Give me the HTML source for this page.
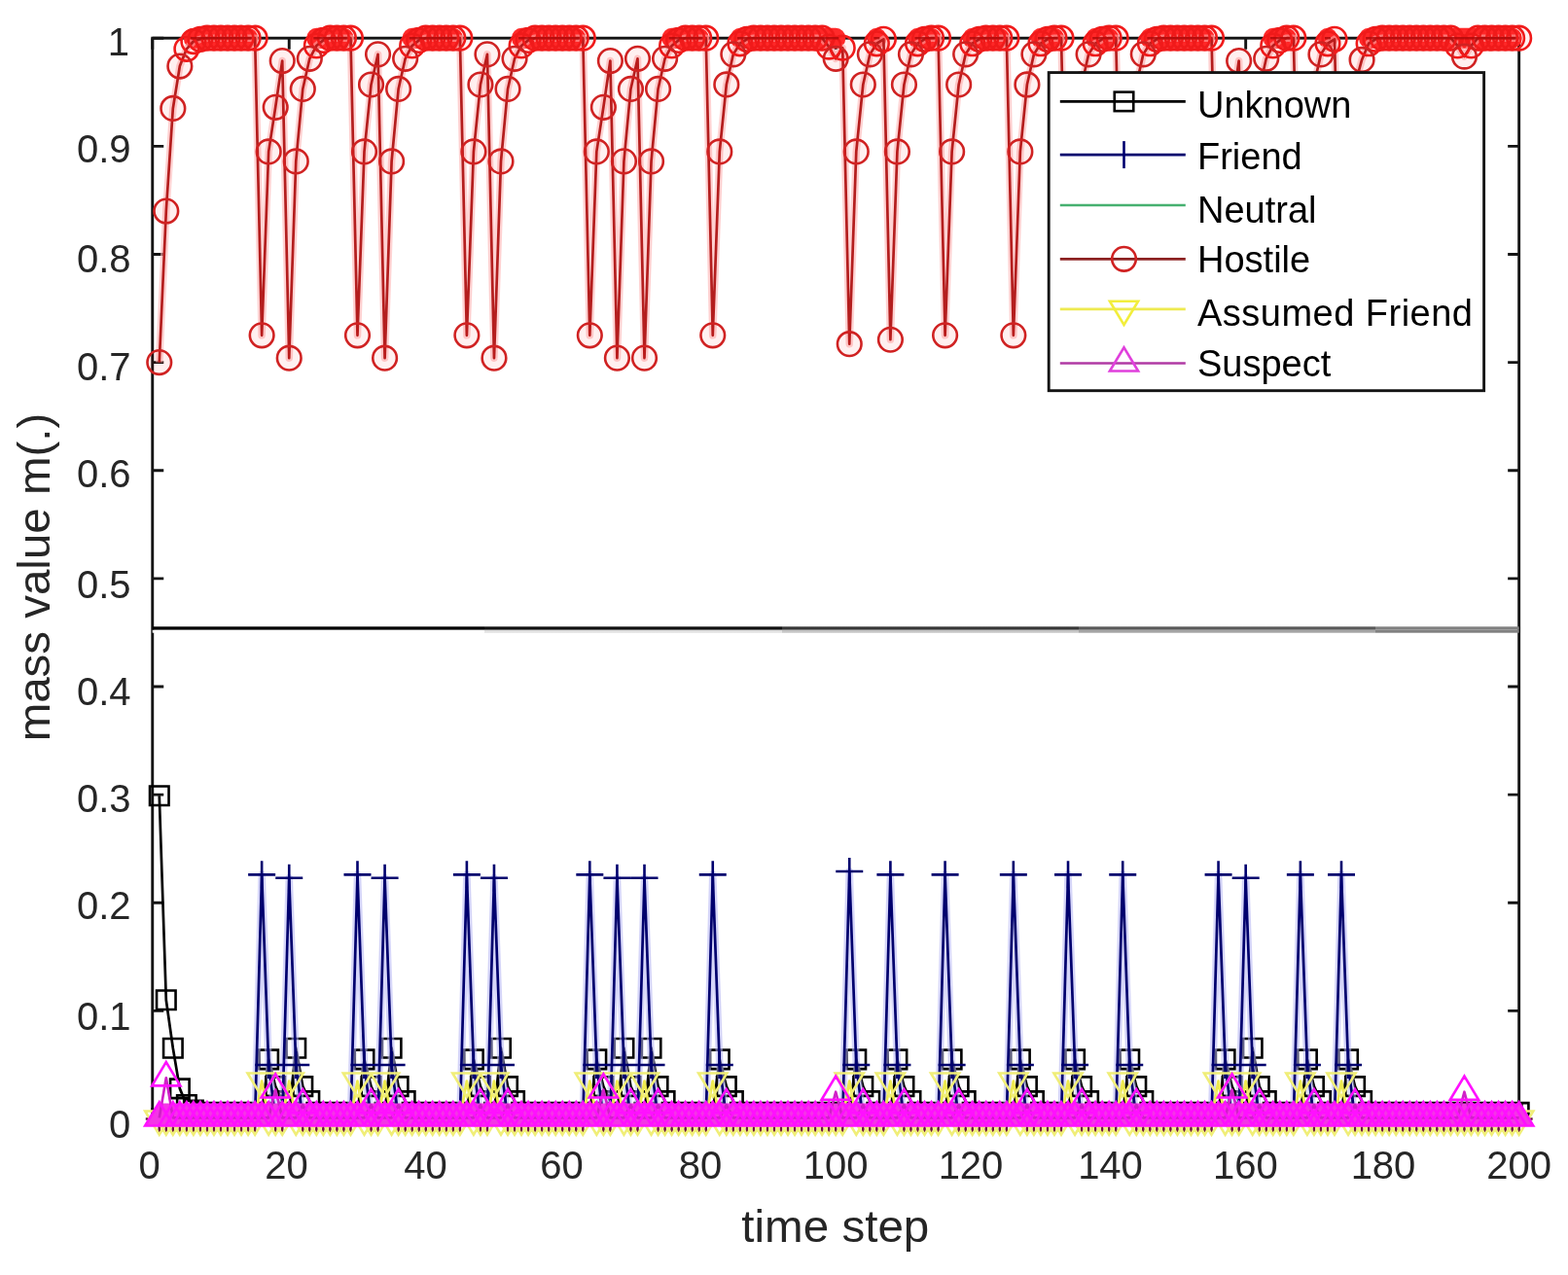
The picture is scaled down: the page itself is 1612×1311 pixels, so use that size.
<!DOCTYPE html><html><head><meta charset="utf-8"><title>mass value plot</title>
<style>html,body{margin:0;padding:0;background:#fff;}svg{display:block;}text{font-family:"Liberation Sans",Arial,Helvetica,sans-serif;}</style></head><body>
<svg width="1612" height="1311" viewBox="0 0 1612 1311">
<rect width="1612" height="1311" fill="#fff"/>
<g stroke="#141414" stroke-width="2.9" fill="none">
<rect x="156.75" y="39.20" width="1404.90" height="1111.30"/>
<path d="M156.75 1150.50h11.5M1561.65 1150.50h-11.5M156.75 1039.37h11.5M1561.65 1039.37h-11.5M156.75 928.24h11.5M1561.65 928.24h-11.5M156.75 817.11h11.5M1561.65 817.11h-11.5M156.75 705.98h11.5M1561.65 705.98h-11.5M156.75 594.85h11.5M1561.65 594.85h-11.5M156.75 483.72h11.5M1561.65 483.72h-11.5M156.75 372.59h11.5M1561.65 372.59h-11.5M156.75 261.46h11.5M1561.65 261.46h-11.5M156.75 150.33h11.5M1561.65 150.33h-11.5M156.75 39.20h11.5M1561.65 39.20h-11.5M156.75 1150.50v-11.5M156.75 39.20v11.5M297.24 1150.50v-11.5M297.24 39.20v11.5M437.73 1150.50v-11.5M437.73 39.20v11.5M578.22 1150.50v-11.5M578.22 39.20v11.5M718.71 1150.50v-11.5M718.71 39.20v11.5M859.20 1150.50v-11.5M859.20 39.20v11.5M999.69 1150.50v-11.5M999.69 39.20v11.5M1140.18 1150.50v-11.5M1140.18 39.20v11.5M1280.67 1150.50v-11.5M1280.67 39.20v11.5M1421.16 1150.50v-11.5M1421.16 39.20v11.5M1561.65 1150.50v-11.5M1561.65 39.20v11.5"/>
</g>
<polyline fill="none" stroke="#000000" stroke-width="2.7" stroke-linejoin="round" points="163.77,818.22 170.80,1028.26 177.82,1077.71 184.85,1119.38 191.87,1136.05 198.90,1141.61 205.92,1143.83 212.95,1143.83 219.97,1143.83 227.00,1143.83 234.02,1143.83 241.04,1143.83 248.07,1143.83 255.09,1143.83 262.12,1143.83 269.14,1143.83 276.17,1089.38 283.19,1117.16 290.22,1132.16 297.24,1143.83 304.26,1077.71 311.29,1117.16 318.31,1132.16 325.34,1143.83 332.36,1143.83 339.39,1143.83 346.41,1143.83 353.44,1143.83 360.46,1143.83 367.49,1143.83 374.51,1089.38 381.53,1117.16 388.56,1132.16 395.58,1143.83 402.61,1077.71 409.63,1117.16 416.66,1132.16 423.68,1143.83 430.71,1143.83 437.73,1143.83 444.75,1143.83 451.78,1143.83 458.80,1143.83 465.83,1143.83 472.85,1143.83 479.88,1143.83 486.90,1089.38 493.93,1117.16 500.95,1132.16 507.97,1143.83 515.00,1077.71 522.02,1117.16 529.05,1132.16 536.07,1143.83 543.10,1143.83 550.12,1143.83 557.15,1143.83 564.17,1143.83 571.20,1143.83 578.22,1143.83 585.24,1143.83 592.27,1143.83 599.29,1143.83 606.32,1143.83 613.34,1089.38 620.37,1117.16 627.39,1132.16 634.42,1143.83 641.44,1077.71 648.46,1117.16 655.49,1132.16 662.51,1143.83 669.54,1077.71 676.56,1117.16 683.59,1132.16 690.61,1143.83 697.64,1143.83 704.66,1143.83 711.69,1143.83 718.71,1143.83 725.73,1143.83 732.76,1143.83 739.78,1089.38 746.81,1117.16 753.83,1132.16 760.86,1143.83 767.88,1143.83 774.91,1143.83 781.93,1143.83 788.95,1143.83 795.98,1143.83 803.00,1143.83 810.03,1143.83 817.05,1143.83 824.08,1143.83 831.10,1143.83 838.13,1143.83 845.15,1143.83 852.18,1143.83 859.20,1143.83 866.22,1143.83 873.25,1143.83 880.27,1089.38 887.30,1117.16 894.32,1132.16 901.35,1143.83 908.37,1143.83 915.40,1143.83 922.42,1089.38 929.44,1117.16 936.47,1132.16 943.49,1143.83 950.52,1143.83 957.54,1143.83 964.57,1143.83 971.59,1143.83 978.62,1089.38 985.64,1117.16 992.67,1132.16 999.69,1143.83 1006.71,1143.83 1013.74,1143.83 1020.76,1143.83 1027.79,1143.83 1034.81,1143.83 1041.84,1143.83 1048.86,1089.38 1055.89,1117.16 1062.91,1132.16 1069.93,1143.83 1076.96,1143.83 1083.98,1143.83 1091.01,1143.83 1098.03,1143.83 1105.06,1089.38 1112.08,1117.16 1119.11,1132.16 1126.13,1143.83 1133.16,1143.83 1140.18,1143.83 1147.20,1143.83 1154.23,1143.83 1161.25,1089.38 1168.28,1117.16 1175.30,1132.16 1182.33,1143.83 1189.35,1143.83 1196.38,1143.83 1203.40,1143.83 1210.42,1143.83 1217.45,1143.83 1224.47,1143.83 1231.50,1143.83 1238.52,1143.83 1245.55,1143.83 1252.57,1143.83 1259.60,1089.38 1266.62,1117.16 1273.65,1132.16 1280.67,1143.83 1287.69,1077.71 1294.72,1117.16 1301.74,1132.16 1308.77,1143.83 1315.79,1143.83 1322.82,1143.83 1329.84,1143.83 1336.87,1143.83 1343.89,1089.38 1350.91,1117.16 1357.94,1132.16 1364.96,1143.83 1371.99,1143.83 1379.01,1143.83 1386.04,1089.38 1393.06,1117.16 1400.09,1132.16 1407.11,1143.83 1414.14,1143.83 1421.16,1143.83 1428.18,1143.83 1435.21,1143.83 1442.23,1143.83 1449.26,1143.83 1456.28,1143.83 1463.31,1143.83 1470.33,1143.83 1477.36,1143.83 1484.38,1143.83 1491.40,1143.83 1498.43,1143.83 1505.45,1143.83 1512.48,1143.83 1519.50,1143.83 1526.53,1143.83 1533.55,1143.83 1540.58,1143.83 1547.60,1143.83 1554.63,1143.83 1561.65,1143.83"/>
<path fill="none" stroke="#000000" stroke-width="2.6" d="M154.02 808.47h19.5v19.5h-19.5zM161.05 1018.51h19.5v19.5h-19.5zM168.07 1067.96h19.5v19.5h-19.5zM175.10 1109.63h19.5v19.5h-19.5zM182.12 1126.30h19.5v19.5h-19.5zM189.15 1131.86h19.5v19.5h-19.5zM196.17 1134.08h19.5v19.5h-19.5zM203.20 1134.08h19.5v19.5h-19.5zM210.22 1134.08h19.5v19.5h-19.5zM217.25 1134.08h19.5v19.5h-19.5zM224.27 1134.08h19.5v19.5h-19.5zM231.29 1134.08h19.5v19.5h-19.5zM238.32 1134.08h19.5v19.5h-19.5zM245.34 1134.08h19.5v19.5h-19.5zM252.37 1134.08h19.5v19.5h-19.5zM259.39 1134.08h19.5v19.5h-19.5zM266.42 1079.63h19.5v19.5h-19.5zM273.44 1107.41h19.5v19.5h-19.5zM280.47 1122.41h19.5v19.5h-19.5zM287.49 1134.08h19.5v19.5h-19.5zM294.51 1067.96h19.5v19.5h-19.5zM301.54 1107.41h19.5v19.5h-19.5zM308.56 1122.41h19.5v19.5h-19.5zM315.59 1134.08h19.5v19.5h-19.5zM322.61 1134.08h19.5v19.5h-19.5zM329.64 1134.08h19.5v19.5h-19.5zM336.66 1134.08h19.5v19.5h-19.5zM343.69 1134.08h19.5v19.5h-19.5zM350.71 1134.08h19.5v19.5h-19.5zM357.74 1134.08h19.5v19.5h-19.5zM364.76 1079.63h19.5v19.5h-19.5zM371.78 1107.41h19.5v19.5h-19.5zM378.81 1122.41h19.5v19.5h-19.5zM385.83 1134.08h19.5v19.5h-19.5zM392.86 1067.96h19.5v19.5h-19.5zM399.88 1107.41h19.5v19.5h-19.5zM406.91 1122.41h19.5v19.5h-19.5zM413.93 1134.08h19.5v19.5h-19.5zM420.96 1134.08h19.5v19.5h-19.5zM427.98 1134.08h19.5v19.5h-19.5zM435.00 1134.08h19.5v19.5h-19.5zM442.03 1134.08h19.5v19.5h-19.5zM449.05 1134.08h19.5v19.5h-19.5zM456.08 1134.08h19.5v19.5h-19.5zM463.10 1134.08h19.5v19.5h-19.5zM470.13 1134.08h19.5v19.5h-19.5zM477.15 1079.63h19.5v19.5h-19.5zM484.18 1107.41h19.5v19.5h-19.5zM491.20 1122.41h19.5v19.5h-19.5zM498.22 1134.08h19.5v19.5h-19.5zM505.25 1067.96h19.5v19.5h-19.5zM512.27 1107.41h19.5v19.5h-19.5zM519.30 1122.41h19.5v19.5h-19.5zM526.32 1134.08h19.5v19.5h-19.5zM533.35 1134.08h19.5v19.5h-19.5zM540.37 1134.08h19.5v19.5h-19.5zM547.40 1134.08h19.5v19.5h-19.5zM554.42 1134.08h19.5v19.5h-19.5zM561.45 1134.08h19.5v19.5h-19.5zM568.47 1134.08h19.5v19.5h-19.5zM575.49 1134.08h19.5v19.5h-19.5zM582.52 1134.08h19.5v19.5h-19.5zM589.54 1134.08h19.5v19.5h-19.5zM596.57 1134.08h19.5v19.5h-19.5zM603.59 1079.63h19.5v19.5h-19.5zM610.62 1107.41h19.5v19.5h-19.5zM617.64 1122.41h19.5v19.5h-19.5zM624.67 1134.08h19.5v19.5h-19.5zM631.69 1067.96h19.5v19.5h-19.5zM638.71 1107.41h19.5v19.5h-19.5zM645.74 1122.41h19.5v19.5h-19.5zM652.76 1134.08h19.5v19.5h-19.5zM659.79 1067.96h19.5v19.5h-19.5zM666.81 1107.41h19.5v19.5h-19.5zM673.84 1122.41h19.5v19.5h-19.5zM680.86 1134.08h19.5v19.5h-19.5zM687.89 1134.08h19.5v19.5h-19.5zM694.91 1134.08h19.5v19.5h-19.5zM701.94 1134.08h19.5v19.5h-19.5zM708.96 1134.08h19.5v19.5h-19.5zM715.98 1134.08h19.5v19.5h-19.5zM723.01 1134.08h19.5v19.5h-19.5zM730.03 1079.63h19.5v19.5h-19.5zM737.06 1107.41h19.5v19.5h-19.5zM744.08 1122.41h19.5v19.5h-19.5zM751.11 1134.08h19.5v19.5h-19.5zM758.13 1134.08h19.5v19.5h-19.5zM765.16 1134.08h19.5v19.5h-19.5zM772.18 1134.08h19.5v19.5h-19.5zM779.20 1134.08h19.5v19.5h-19.5zM786.23 1134.08h19.5v19.5h-19.5zM793.25 1134.08h19.5v19.5h-19.5zM800.28 1134.08h19.5v19.5h-19.5zM807.30 1134.08h19.5v19.5h-19.5zM814.33 1134.08h19.5v19.5h-19.5zM821.35 1134.08h19.5v19.5h-19.5zM828.38 1134.08h19.5v19.5h-19.5zM835.40 1134.08h19.5v19.5h-19.5zM842.43 1134.08h19.5v19.5h-19.5zM849.45 1134.08h19.5v19.5h-19.5zM856.47 1134.08h19.5v19.5h-19.5zM863.50 1134.08h19.5v19.5h-19.5zM870.52 1079.63h19.5v19.5h-19.5zM877.55 1107.41h19.5v19.5h-19.5zM884.57 1122.41h19.5v19.5h-19.5zM891.60 1134.08h19.5v19.5h-19.5zM898.62 1134.08h19.5v19.5h-19.5zM905.65 1134.08h19.5v19.5h-19.5zM912.67 1079.63h19.5v19.5h-19.5zM919.69 1107.41h19.5v19.5h-19.5zM926.72 1122.41h19.5v19.5h-19.5zM933.74 1134.08h19.5v19.5h-19.5zM940.77 1134.08h19.5v19.5h-19.5zM947.79 1134.08h19.5v19.5h-19.5zM954.82 1134.08h19.5v19.5h-19.5zM961.84 1134.08h19.5v19.5h-19.5zM968.87 1079.63h19.5v19.5h-19.5zM975.89 1107.41h19.5v19.5h-19.5zM982.92 1122.41h19.5v19.5h-19.5zM989.94 1134.08h19.5v19.5h-19.5zM996.96 1134.08h19.5v19.5h-19.5zM1003.99 1134.08h19.5v19.5h-19.5zM1011.01 1134.08h19.5v19.5h-19.5zM1018.04 1134.08h19.5v19.5h-19.5zM1025.06 1134.08h19.5v19.5h-19.5zM1032.09 1134.08h19.5v19.5h-19.5zM1039.11 1079.63h19.5v19.5h-19.5zM1046.14 1107.41h19.5v19.5h-19.5zM1053.16 1122.41h19.5v19.5h-19.5zM1060.18 1134.08h19.5v19.5h-19.5zM1067.21 1134.08h19.5v19.5h-19.5zM1074.23 1134.08h19.5v19.5h-19.5zM1081.26 1134.08h19.5v19.5h-19.5zM1088.28 1134.08h19.5v19.5h-19.5zM1095.31 1079.63h19.5v19.5h-19.5zM1102.33 1107.41h19.5v19.5h-19.5zM1109.36 1122.41h19.5v19.5h-19.5zM1116.38 1134.08h19.5v19.5h-19.5zM1123.41 1134.08h19.5v19.5h-19.5zM1130.43 1134.08h19.5v19.5h-19.5zM1137.45 1134.08h19.5v19.5h-19.5zM1144.48 1134.08h19.5v19.5h-19.5zM1151.50 1079.63h19.5v19.5h-19.5zM1158.53 1107.41h19.5v19.5h-19.5zM1165.55 1122.41h19.5v19.5h-19.5zM1172.58 1134.08h19.5v19.5h-19.5zM1179.60 1134.08h19.5v19.5h-19.5zM1186.63 1134.08h19.5v19.5h-19.5zM1193.65 1134.08h19.5v19.5h-19.5zM1200.67 1134.08h19.5v19.5h-19.5zM1207.70 1134.08h19.5v19.5h-19.5zM1214.72 1134.08h19.5v19.5h-19.5zM1221.75 1134.08h19.5v19.5h-19.5zM1228.77 1134.08h19.5v19.5h-19.5zM1235.80 1134.08h19.5v19.5h-19.5zM1242.82 1134.08h19.5v19.5h-19.5zM1249.85 1079.63h19.5v19.5h-19.5zM1256.87 1107.41h19.5v19.5h-19.5zM1263.90 1122.41h19.5v19.5h-19.5zM1270.92 1134.08h19.5v19.5h-19.5zM1277.94 1067.96h19.5v19.5h-19.5zM1284.97 1107.41h19.5v19.5h-19.5zM1291.99 1122.41h19.5v19.5h-19.5zM1299.02 1134.08h19.5v19.5h-19.5zM1306.04 1134.08h19.5v19.5h-19.5zM1313.07 1134.08h19.5v19.5h-19.5zM1320.09 1134.08h19.5v19.5h-19.5zM1327.12 1134.08h19.5v19.5h-19.5zM1334.14 1079.63h19.5v19.5h-19.5zM1341.16 1107.41h19.5v19.5h-19.5zM1348.19 1122.41h19.5v19.5h-19.5zM1355.21 1134.08h19.5v19.5h-19.5zM1362.24 1134.08h19.5v19.5h-19.5zM1369.26 1134.08h19.5v19.5h-19.5zM1376.29 1079.63h19.5v19.5h-19.5zM1383.31 1107.41h19.5v19.5h-19.5zM1390.34 1122.41h19.5v19.5h-19.5zM1397.36 1134.08h19.5v19.5h-19.5zM1404.39 1134.08h19.5v19.5h-19.5zM1411.41 1134.08h19.5v19.5h-19.5zM1418.43 1134.08h19.5v19.5h-19.5zM1425.46 1134.08h19.5v19.5h-19.5zM1432.48 1134.08h19.5v19.5h-19.5zM1439.51 1134.08h19.5v19.5h-19.5zM1446.53 1134.08h19.5v19.5h-19.5zM1453.56 1134.08h19.5v19.5h-19.5zM1460.58 1134.08h19.5v19.5h-19.5zM1467.61 1134.08h19.5v19.5h-19.5zM1474.63 1134.08h19.5v19.5h-19.5zM1481.65 1134.08h19.5v19.5h-19.5zM1488.68 1134.08h19.5v19.5h-19.5zM1495.70 1134.08h19.5v19.5h-19.5zM1502.73 1134.08h19.5v19.5h-19.5zM1509.75 1134.08h19.5v19.5h-19.5zM1516.78 1134.08h19.5v19.5h-19.5zM1523.80 1134.08h19.5v19.5h-19.5zM1530.83 1134.08h19.5v19.5h-19.5zM1537.85 1134.08h19.5v19.5h-19.5zM1544.88 1134.08h19.5v19.5h-19.5zM1551.90 1134.08h19.5v19.5h-19.5z"/>
<polyline stroke-opacity="0.55" fill="none" stroke="#b4b4f4" stroke-width="7.5" stroke-linejoin="round" points="163.77,1150.50 170.80,1150.50 177.82,1150.50 184.85,1150.50 191.87,1150.50 198.90,1150.50 205.92,1150.50 212.95,1150.50 219.97,1150.50 227.00,1150.50 234.02,1150.50 241.04,1150.50 248.07,1150.50 255.09,1150.50 262.12,1150.50 269.14,899.35 276.17,1094.93 283.19,1150.50 290.22,1150.50 297.24,902.68 304.26,1094.93 311.29,1150.50 318.31,1150.50 325.34,1150.50 332.36,1150.50 339.39,1150.50 346.41,1150.50 353.44,1150.50 360.46,1150.50 367.49,899.35 374.51,1094.93 381.53,1150.50 388.56,1150.50 395.58,902.68 402.61,1094.93 409.63,1150.50 416.66,1150.50 423.68,1150.50 430.71,1150.50 437.73,1150.50 444.75,1150.50 451.78,1150.50 458.80,1150.50 465.83,1150.50 472.85,1150.50 479.88,899.35 486.90,1094.93 493.93,1150.50 500.95,1150.50 507.97,902.68 515.00,1094.93 522.02,1150.50 529.05,1150.50 536.07,1150.50 543.10,1150.50 550.12,1150.50 557.15,1150.50 564.17,1150.50 571.20,1150.50 578.22,1150.50 585.24,1150.50 592.27,1150.50 599.29,1150.50 606.32,899.35 613.34,1094.93 620.37,1150.50 627.39,1150.50 634.42,902.68 641.44,1094.93 648.46,1150.50 655.49,1150.50 662.51,902.68 669.54,1094.93 676.56,1150.50 683.59,1150.50 690.61,1150.50 697.64,1150.50 704.66,1150.50 711.69,1150.50 718.71,1150.50 725.73,1150.50 732.76,899.35 739.78,1094.93 746.81,1150.50 753.83,1150.50 760.86,1150.50 767.88,1150.50 774.91,1150.50 781.93,1150.50 788.95,1150.50 795.98,1150.50 803.00,1150.50 810.03,1150.50 817.05,1150.50 824.08,1150.50 831.10,1150.50 838.13,1150.50 845.15,1150.50 852.18,1150.50 859.20,1150.50 866.22,1150.50 873.25,896.01 880.27,1094.93 887.30,1150.50 894.32,1150.50 901.35,1150.50 908.37,1150.50 915.40,899.35 922.42,1094.93 929.44,1150.50 936.47,1150.50 943.49,1150.50 950.52,1150.50 957.54,1150.50 964.57,1150.50 971.59,899.35 978.62,1094.93 985.64,1150.50 992.67,1150.50 999.69,1150.50 1006.71,1150.50 1013.74,1150.50 1020.76,1150.50 1027.79,1150.50 1034.81,1150.50 1041.84,899.35 1048.86,1094.93 1055.89,1150.50 1062.91,1150.50 1069.93,1150.50 1076.96,1150.50 1083.98,1150.50 1091.01,1150.50 1098.03,899.35 1105.06,1094.93 1112.08,1150.50 1119.11,1150.50 1126.13,1150.50 1133.16,1150.50 1140.18,1150.50 1147.20,1150.50 1154.23,899.35 1161.25,1094.93 1168.28,1150.50 1175.30,1150.50 1182.33,1150.50 1189.35,1150.50 1196.38,1150.50 1203.40,1150.50 1210.42,1150.50 1217.45,1150.50 1224.47,1150.50 1231.50,1150.50 1238.52,1150.50 1245.55,1150.50 1252.57,899.35 1259.60,1094.93 1266.62,1150.50 1273.65,1150.50 1280.67,902.68 1287.69,1094.93 1294.72,1150.50 1301.74,1150.50 1308.77,1150.50 1315.79,1150.50 1322.82,1150.50 1329.84,1150.50 1336.87,899.35 1343.89,1094.93 1350.91,1150.50 1357.94,1150.50 1364.96,1150.50 1371.99,1150.50 1379.01,899.35 1386.04,1094.93 1393.06,1150.50 1400.09,1150.50 1407.11,1150.50 1414.14,1150.50 1421.16,1150.50 1428.18,1150.50 1435.21,1150.50 1442.23,1150.50 1449.26,1150.50 1456.28,1150.50 1463.31,1150.50 1470.33,1150.50 1477.36,1150.50 1484.38,1150.50 1491.40,1150.50 1498.43,1150.50 1505.45,1150.50 1512.48,1150.50 1519.50,1150.50 1526.53,1150.50 1533.55,1150.50 1540.58,1150.50 1547.60,1150.50 1554.63,1150.50 1561.65,1150.50"/>
<polyline fill="none" stroke="#00006e" stroke-width="2.7" stroke-linejoin="round" points="163.77,1150.50 170.80,1150.50 177.82,1150.50 184.85,1150.50 191.87,1150.50 198.90,1150.50 205.92,1150.50 212.95,1150.50 219.97,1150.50 227.00,1150.50 234.02,1150.50 241.04,1150.50 248.07,1150.50 255.09,1150.50 262.12,1150.50 269.14,899.35 276.17,1094.93 283.19,1150.50 290.22,1150.50 297.24,902.68 304.26,1094.93 311.29,1150.50 318.31,1150.50 325.34,1150.50 332.36,1150.50 339.39,1150.50 346.41,1150.50 353.44,1150.50 360.46,1150.50 367.49,899.35 374.51,1094.93 381.53,1150.50 388.56,1150.50 395.58,902.68 402.61,1094.93 409.63,1150.50 416.66,1150.50 423.68,1150.50 430.71,1150.50 437.73,1150.50 444.75,1150.50 451.78,1150.50 458.80,1150.50 465.83,1150.50 472.85,1150.50 479.88,899.35 486.90,1094.93 493.93,1150.50 500.95,1150.50 507.97,902.68 515.00,1094.93 522.02,1150.50 529.05,1150.50 536.07,1150.50 543.10,1150.50 550.12,1150.50 557.15,1150.50 564.17,1150.50 571.20,1150.50 578.22,1150.50 585.24,1150.50 592.27,1150.50 599.29,1150.50 606.32,899.35 613.34,1094.93 620.37,1150.50 627.39,1150.50 634.42,902.68 641.44,1094.93 648.46,1150.50 655.49,1150.50 662.51,902.68 669.54,1094.93 676.56,1150.50 683.59,1150.50 690.61,1150.50 697.64,1150.50 704.66,1150.50 711.69,1150.50 718.71,1150.50 725.73,1150.50 732.76,899.35 739.78,1094.93 746.81,1150.50 753.83,1150.50 760.86,1150.50 767.88,1150.50 774.91,1150.50 781.93,1150.50 788.95,1150.50 795.98,1150.50 803.00,1150.50 810.03,1150.50 817.05,1150.50 824.08,1150.50 831.10,1150.50 838.13,1150.50 845.15,1150.50 852.18,1150.50 859.20,1150.50 866.22,1150.50 873.25,896.01 880.27,1094.93 887.30,1150.50 894.32,1150.50 901.35,1150.50 908.37,1150.50 915.40,899.35 922.42,1094.93 929.44,1150.50 936.47,1150.50 943.49,1150.50 950.52,1150.50 957.54,1150.50 964.57,1150.50 971.59,899.35 978.62,1094.93 985.64,1150.50 992.67,1150.50 999.69,1150.50 1006.71,1150.50 1013.74,1150.50 1020.76,1150.50 1027.79,1150.50 1034.81,1150.50 1041.84,899.35 1048.86,1094.93 1055.89,1150.50 1062.91,1150.50 1069.93,1150.50 1076.96,1150.50 1083.98,1150.50 1091.01,1150.50 1098.03,899.35 1105.06,1094.93 1112.08,1150.50 1119.11,1150.50 1126.13,1150.50 1133.16,1150.50 1140.18,1150.50 1147.20,1150.50 1154.23,899.35 1161.25,1094.93 1168.28,1150.50 1175.30,1150.50 1182.33,1150.50 1189.35,1150.50 1196.38,1150.50 1203.40,1150.50 1210.42,1150.50 1217.45,1150.50 1224.47,1150.50 1231.50,1150.50 1238.52,1150.50 1245.55,1150.50 1252.57,899.35 1259.60,1094.93 1266.62,1150.50 1273.65,1150.50 1280.67,902.68 1287.69,1094.93 1294.72,1150.50 1301.74,1150.50 1308.77,1150.50 1315.79,1150.50 1322.82,1150.50 1329.84,1150.50 1336.87,899.35 1343.89,1094.93 1350.91,1150.50 1357.94,1150.50 1364.96,1150.50 1371.99,1150.50 1379.01,899.35 1386.04,1094.93 1393.06,1150.50 1400.09,1150.50 1407.11,1150.50 1414.14,1150.50 1421.16,1150.50 1428.18,1150.50 1435.21,1150.50 1442.23,1150.50 1449.26,1150.50 1456.28,1150.50 1463.31,1150.50 1470.33,1150.50 1477.36,1150.50 1484.38,1150.50 1491.40,1150.50 1498.43,1150.50 1505.45,1150.50 1512.48,1150.50 1519.50,1150.50 1526.53,1150.50 1533.55,1150.50 1540.58,1150.50 1547.60,1150.50 1554.63,1150.50 1561.65,1150.50"/>
<path fill="none" stroke="#6a1440" stroke-width="2.6" d="M149.77 1150.50h28.0M163.77 1136.50v28.0M156.80 1150.50h28.0M170.80 1136.50v28.0M163.82 1150.50h28.0M177.82 1136.50v28.0M170.85 1150.50h28.0M184.85 1136.50v28.0M177.87 1150.50h28.0M191.87 1136.50v28.0M184.90 1150.50h28.0M198.90 1136.50v28.0M191.92 1150.50h28.0M205.92 1136.50v28.0M198.95 1150.50h28.0M212.95 1136.50v28.0M205.97 1150.50h28.0M219.97 1136.50v28.0M213.00 1150.50h28.0M227.00 1136.50v28.0M220.02 1150.50h28.0M234.02 1136.50v28.0M227.04 1150.50h28.0M241.04 1136.50v28.0M234.07 1150.50h28.0M248.07 1136.50v28.0M241.09 1150.50h28.0M255.09 1136.50v28.0M248.12 1150.50h28.0M262.12 1136.50v28.0M269.19 1150.50h28.0M283.19 1136.50v28.0M276.22 1150.50h28.0M290.22 1136.50v28.0M297.29 1150.50h28.0M311.29 1136.50v28.0M304.31 1150.50h28.0M318.31 1136.50v28.0M311.34 1150.50h28.0M325.34 1136.50v28.0M318.36 1150.50h28.0M332.36 1136.50v28.0M325.39 1150.50h28.0M339.39 1136.50v28.0M332.41 1150.50h28.0M346.41 1136.50v28.0M339.44 1150.50h28.0M353.44 1136.50v28.0M346.46 1150.50h28.0M360.46 1136.50v28.0M367.53 1150.50h28.0M381.53 1136.50v28.0M374.56 1150.50h28.0M388.56 1136.50v28.0M395.63 1150.50h28.0M409.63 1136.50v28.0M402.66 1150.50h28.0M416.66 1136.50v28.0M409.68 1150.50h28.0M423.68 1136.50v28.0M416.71 1150.50h28.0M430.71 1136.50v28.0M423.73 1150.50h28.0M437.73 1136.50v28.0M430.75 1150.50h28.0M444.75 1136.50v28.0M437.78 1150.50h28.0M451.78 1136.50v28.0M444.80 1150.50h28.0M458.80 1136.50v28.0M451.83 1150.50h28.0M465.83 1136.50v28.0M458.85 1150.50h28.0M472.85 1136.50v28.0M479.93 1150.50h28.0M493.93 1136.50v28.0M486.95 1150.50h28.0M500.95 1136.50v28.0M508.02 1150.50h28.0M522.02 1136.50v28.0M515.05 1150.50h28.0M529.05 1136.50v28.0M522.07 1150.50h28.0M536.07 1136.50v28.0M529.10 1150.50h28.0M543.10 1136.50v28.0M536.12 1150.50h28.0M550.12 1136.50v28.0M543.15 1150.50h28.0M557.15 1136.50v28.0M550.17 1150.50h28.0M564.17 1136.50v28.0M557.20 1150.50h28.0M571.20 1136.50v28.0M564.22 1150.50h28.0M578.22 1136.50v28.0M571.24 1150.50h28.0M585.24 1136.50v28.0M578.27 1150.50h28.0M592.27 1136.50v28.0M585.29 1150.50h28.0M599.29 1136.50v28.0M606.37 1150.50h28.0M620.37 1136.50v28.0M613.39 1150.50h28.0M627.39 1136.50v28.0M634.46 1150.50h28.0M648.46 1136.50v28.0M641.49 1150.50h28.0M655.49 1136.50v28.0M662.56 1150.50h28.0M676.56 1136.50v28.0M669.59 1150.50h28.0M683.59 1136.50v28.0M676.61 1150.50h28.0M690.61 1136.50v28.0M683.64 1150.50h28.0M697.64 1136.50v28.0M690.66 1150.50h28.0M704.66 1136.50v28.0M697.69 1150.50h28.0M711.69 1136.50v28.0M704.71 1150.50h28.0M718.71 1136.50v28.0M711.73 1150.50h28.0M725.73 1136.50v28.0M732.81 1150.50h28.0M746.81 1136.50v28.0M739.83 1150.50h28.0M753.83 1136.50v28.0M746.86 1150.50h28.0M760.86 1136.50v28.0M753.88 1150.50h28.0M767.88 1136.50v28.0M760.91 1150.50h28.0M774.91 1136.50v28.0M767.93 1150.50h28.0M781.93 1136.50v28.0M774.95 1150.50h28.0M788.95 1136.50v28.0M781.98 1150.50h28.0M795.98 1136.50v28.0M789.00 1150.50h28.0M803.00 1136.50v28.0M796.03 1150.50h28.0M810.03 1136.50v28.0M803.05 1150.50h28.0M817.05 1136.50v28.0M810.08 1150.50h28.0M824.08 1136.50v28.0M817.10 1150.50h28.0M831.10 1136.50v28.0M824.13 1150.50h28.0M838.13 1136.50v28.0M831.15 1150.50h28.0M845.15 1136.50v28.0M838.18 1150.50h28.0M852.18 1136.50v28.0M845.20 1150.50h28.0M859.20 1136.50v28.0M852.22 1150.50h28.0M866.22 1136.50v28.0M873.30 1150.50h28.0M887.30 1136.50v28.0M880.32 1150.50h28.0M894.32 1136.50v28.0M887.35 1150.50h28.0M901.35 1136.50v28.0M894.37 1150.50h28.0M908.37 1136.50v28.0M915.44 1150.50h28.0M929.44 1136.50v28.0M922.47 1150.50h28.0M936.47 1136.50v28.0M929.49 1150.50h28.0M943.49 1136.50v28.0M936.52 1150.50h28.0M950.52 1136.50v28.0M943.54 1150.50h28.0M957.54 1136.50v28.0M950.57 1150.50h28.0M964.57 1136.50v28.0M971.64 1150.50h28.0M985.64 1136.50v28.0M978.67 1150.50h28.0M992.67 1136.50v28.0M985.69 1150.50h28.0M999.69 1136.50v28.0M992.71 1150.50h28.0M1006.71 1136.50v28.0M999.74 1150.50h28.0M1013.74 1136.50v28.0M1006.76 1150.50h28.0M1020.76 1136.50v28.0M1013.79 1150.50h28.0M1027.79 1136.50v28.0M1020.81 1150.50h28.0M1034.81 1136.50v28.0M1041.89 1150.50h28.0M1055.89 1136.50v28.0M1048.91 1150.50h28.0M1062.91 1136.50v28.0M1055.93 1150.50h28.0M1069.93 1136.50v28.0M1062.96 1150.50h28.0M1076.96 1136.50v28.0M1069.98 1150.50h28.0M1083.98 1136.50v28.0M1077.01 1150.50h28.0M1091.01 1136.50v28.0M1098.08 1150.50h28.0M1112.08 1136.50v28.0M1105.11 1150.50h28.0M1119.11 1136.50v28.0M1112.13 1150.50h28.0M1126.13 1136.50v28.0M1119.16 1150.50h28.0M1133.16 1136.50v28.0M1126.18 1150.50h28.0M1140.18 1136.50v28.0M1133.20 1150.50h28.0M1147.20 1136.50v28.0M1154.28 1150.50h28.0M1168.28 1136.50v28.0M1161.30 1150.50h28.0M1175.30 1136.50v28.0M1168.33 1150.50h28.0M1182.33 1136.50v28.0M1175.35 1150.50h28.0M1189.35 1136.50v28.0M1182.38 1150.50h28.0M1196.38 1136.50v28.0M1189.40 1150.50h28.0M1203.40 1136.50v28.0M1196.42 1150.50h28.0M1210.42 1136.50v28.0M1203.45 1150.50h28.0M1217.45 1136.50v28.0M1210.47 1150.50h28.0M1224.47 1136.50v28.0M1217.50 1150.50h28.0M1231.50 1136.50v28.0M1224.52 1150.50h28.0M1238.52 1136.50v28.0M1231.55 1150.50h28.0M1245.55 1136.50v28.0M1252.62 1150.50h28.0M1266.62 1136.50v28.0M1259.65 1150.50h28.0M1273.65 1136.50v28.0M1280.72 1150.50h28.0M1294.72 1136.50v28.0M1287.74 1150.50h28.0M1301.74 1136.50v28.0M1294.77 1150.50h28.0M1308.77 1136.50v28.0M1301.79 1150.50h28.0M1315.79 1136.50v28.0M1308.82 1150.50h28.0M1322.82 1136.50v28.0M1315.84 1150.50h28.0M1329.84 1136.50v28.0M1336.91 1150.50h28.0M1350.91 1136.50v28.0M1343.94 1150.50h28.0M1357.94 1136.50v28.0M1350.96 1150.50h28.0M1364.96 1136.50v28.0M1357.99 1150.50h28.0M1371.99 1136.50v28.0M1379.06 1150.50h28.0M1393.06 1136.50v28.0M1386.09 1150.50h28.0M1400.09 1136.50v28.0M1393.11 1150.50h28.0M1407.11 1136.50v28.0M1400.14 1150.50h28.0M1414.14 1136.50v28.0M1407.16 1150.50h28.0M1421.16 1136.50v28.0M1414.18 1150.50h28.0M1428.18 1136.50v28.0M1421.21 1150.50h28.0M1435.21 1136.50v28.0M1428.23 1150.50h28.0M1442.23 1136.50v28.0M1435.26 1150.50h28.0M1449.26 1136.50v28.0M1442.28 1150.50h28.0M1456.28 1136.50v28.0M1449.31 1150.50h28.0M1463.31 1136.50v28.0M1456.33 1150.50h28.0M1470.33 1136.50v28.0M1463.36 1150.50h28.0M1477.36 1136.50v28.0M1470.38 1150.50h28.0M1484.38 1136.50v28.0M1477.40 1150.50h28.0M1491.40 1136.50v28.0M1484.43 1150.50h28.0M1498.43 1136.50v28.0M1491.45 1150.50h28.0M1505.45 1136.50v28.0M1498.48 1150.50h28.0M1512.48 1136.50v28.0M1505.50 1150.50h28.0M1519.50 1136.50v28.0M1512.53 1150.50h28.0M1526.53 1136.50v28.0M1519.55 1150.50h28.0M1533.55 1136.50v28.0M1526.58 1150.50h28.0M1540.58 1136.50v28.0M1533.60 1150.50h28.0M1547.60 1136.50v28.0M1540.63 1150.50h28.0M1554.63 1136.50v28.0M1547.65 1150.50h28.0M1561.65 1136.50v28.0"/>
<path fill="none" stroke="#00006e" stroke-width="2.6" d="M255.14 899.35h28.0M269.14 885.35v28.0M262.17 1094.93h28.0M276.17 1080.93v28.0M283.24 902.68h28.0M297.24 888.68v28.0M290.26 1094.93h28.0M304.26 1080.93v28.0M353.49 899.35h28.0M367.49 885.35v28.0M360.51 1094.93h28.0M374.51 1080.93v28.0M381.58 902.68h28.0M395.58 888.68v28.0M388.61 1094.93h28.0M402.61 1080.93v28.0M465.88 899.35h28.0M479.88 885.35v28.0M472.90 1094.93h28.0M486.90 1080.93v28.0M493.97 902.68h28.0M507.97 888.68v28.0M501.00 1094.93h28.0M515.00 1080.93v28.0M592.32 899.35h28.0M606.32 885.35v28.0M599.34 1094.93h28.0M613.34 1080.93v28.0M620.42 902.68h28.0M634.42 888.68v28.0M627.44 1094.93h28.0M641.44 1080.93v28.0M648.51 902.68h28.0M662.51 888.68v28.0M655.54 1094.93h28.0M669.54 1080.93v28.0M718.76 899.35h28.0M732.76 885.35v28.0M725.78 1094.93h28.0M739.78 1080.93v28.0M859.25 896.01h28.0M873.25 882.01v28.0M866.27 1094.93h28.0M880.27 1080.93v28.0M901.40 899.35h28.0M915.40 885.35v28.0M908.42 1094.93h28.0M922.42 1080.93v28.0M957.59 899.35h28.0M971.59 885.35v28.0M964.62 1094.93h28.0M978.62 1080.93v28.0M1027.84 899.35h28.0M1041.84 885.35v28.0M1034.86 1094.93h28.0M1048.86 1080.93v28.0M1084.03 899.35h28.0M1098.03 885.35v28.0M1091.06 1094.93h28.0M1105.06 1080.93v28.0M1140.23 899.35h28.0M1154.23 885.35v28.0M1147.25 1094.93h28.0M1161.25 1080.93v28.0M1238.57 899.35h28.0M1252.57 885.35v28.0M1245.60 1094.93h28.0M1259.60 1080.93v28.0M1266.67 902.68h28.0M1280.67 888.68v28.0M1273.69 1094.93h28.0M1287.69 1080.93v28.0M1322.87 899.35h28.0M1336.87 885.35v28.0M1329.89 1094.93h28.0M1343.89 1080.93v28.0M1365.01 899.35h28.0M1379.01 885.35v28.0M1372.04 1094.93h28.0M1386.04 1080.93v28.0"/>
<polyline fill="none" stroke="#46b070" stroke-width="2.7" stroke-linejoin="round" points="163.77,1150.50 170.80,1150.50 177.82,1150.50 184.85,1150.50 191.87,1150.50 198.90,1150.50 205.92,1150.50 212.95,1150.50 219.97,1150.50 227.00,1150.50 234.02,1150.50 241.04,1150.50 248.07,1150.50 255.09,1150.50 262.12,1150.50 269.14,1150.50 276.17,1150.50 283.19,1150.50 290.22,1150.50 297.24,1150.50 304.26,1150.50 311.29,1150.50 318.31,1150.50 325.34,1150.50 332.36,1150.50 339.39,1150.50 346.41,1150.50 353.44,1150.50 360.46,1150.50 367.49,1150.50 374.51,1150.50 381.53,1150.50 388.56,1150.50 395.58,1150.50 402.61,1150.50 409.63,1150.50 416.66,1150.50 423.68,1150.50 430.71,1150.50 437.73,1150.50 444.75,1150.50 451.78,1150.50 458.80,1150.50 465.83,1150.50 472.85,1150.50 479.88,1150.50 486.90,1150.50 493.93,1150.50 500.95,1150.50 507.97,1150.50 515.00,1150.50 522.02,1150.50 529.05,1150.50 536.07,1150.50 543.10,1150.50 550.12,1150.50 557.15,1150.50 564.17,1150.50 571.20,1150.50 578.22,1150.50 585.24,1150.50 592.27,1150.50 599.29,1150.50 606.32,1150.50 613.34,1150.50 620.37,1150.50 627.39,1150.50 634.42,1150.50 641.44,1150.50 648.46,1150.50 655.49,1150.50 662.51,1150.50 669.54,1150.50 676.56,1150.50 683.59,1150.50 690.61,1150.50 697.64,1150.50 704.66,1150.50 711.69,1150.50 718.71,1150.50 725.73,1150.50 732.76,1150.50 739.78,1150.50 746.81,1150.50 753.83,1150.50 760.86,1150.50 767.88,1150.50 774.91,1150.50 781.93,1150.50 788.95,1150.50 795.98,1150.50 803.00,1150.50 810.03,1150.50 817.05,1150.50 824.08,1150.50 831.10,1150.50 838.13,1150.50 845.15,1150.50 852.18,1150.50 859.20,1150.50 866.22,1150.50 873.25,1150.50 880.27,1150.50 887.30,1150.50 894.32,1150.50 901.35,1150.50 908.37,1150.50 915.40,1150.50 922.42,1150.50 929.44,1150.50 936.47,1150.50 943.49,1150.50 950.52,1150.50 957.54,1150.50 964.57,1150.50 971.59,1150.50 978.62,1150.50 985.64,1150.50 992.67,1150.50 999.69,1150.50 1006.71,1150.50 1013.74,1150.50 1020.76,1150.50 1027.79,1150.50 1034.81,1150.50 1041.84,1150.50 1048.86,1150.50 1055.89,1150.50 1062.91,1150.50 1069.93,1150.50 1076.96,1150.50 1083.98,1150.50 1091.01,1150.50 1098.03,1150.50 1105.06,1150.50 1112.08,1150.50 1119.11,1150.50 1126.13,1150.50 1133.16,1150.50 1140.18,1150.50 1147.20,1150.50 1154.23,1150.50 1161.25,1150.50 1168.28,1150.50 1175.30,1150.50 1182.33,1150.50 1189.35,1150.50 1196.38,1150.50 1203.40,1150.50 1210.42,1150.50 1217.45,1150.50 1224.47,1150.50 1231.50,1150.50 1238.52,1150.50 1245.55,1150.50 1252.57,1150.50 1259.60,1150.50 1266.62,1150.50 1273.65,1150.50 1280.67,1150.50 1287.69,1150.50 1294.72,1150.50 1301.74,1150.50 1308.77,1150.50 1315.79,1150.50 1322.82,1150.50 1329.84,1150.50 1336.87,1150.50 1343.89,1150.50 1350.91,1150.50 1357.94,1150.50 1364.96,1150.50 1371.99,1150.50 1379.01,1150.50 1386.04,1150.50 1393.06,1150.50 1400.09,1150.50 1407.11,1150.50 1414.14,1150.50 1421.16,1150.50 1428.18,1150.50 1435.21,1150.50 1442.23,1150.50 1449.26,1150.50 1456.28,1150.50 1463.31,1150.50 1470.33,1150.50 1477.36,1150.50 1484.38,1150.50 1491.40,1150.50 1498.43,1150.50 1505.45,1150.50 1512.48,1150.50 1519.50,1150.50 1526.53,1150.50 1533.55,1150.50 1540.58,1150.50 1547.60,1150.50 1554.63,1150.50 1561.65,1150.50"/>
<rect x="188.87" y="28.70" width="76.25" height="21" rx="10" fill="#ff2a2a"/>
<rect x="315.31" y="28.70" width="48.15" height="21" rx="10" fill="#ff2a2a"/>
<rect x="413.66" y="28.70" width="62.20" height="21" rx="10" fill="#ff2a2a"/>
<rect x="526.05" y="28.70" width="76.25" height="21" rx="10" fill="#ff2a2a"/>
<rect x="680.59" y="28.70" width="48.15" height="21" rx="10" fill="#ff2a2a"/>
<rect x="750.83" y="28.70" width="118.39" height="21" rx="10" fill="#ff2a2a"/>
<rect x="891.32" y="28.70" width="20.05" height="21" rx="10" fill="#ff2a2a"/>
<rect x="933.47" y="28.70" width="34.10" height="21" rx="10" fill="#ff2a2a"/>
<rect x="989.67" y="28.70" width="48.15" height="21" rx="10" fill="#ff2a2a"/>
<rect x="1059.91" y="28.70" width="34.10" height="21" rx="10" fill="#ff2a2a"/>
<rect x="1116.11" y="28.70" width="34.10" height="21" rx="10" fill="#ff2a2a"/>
<rect x="1172.30" y="28.70" width="76.24" height="21" rx="10" fill="#ff2a2a"/>
<rect x="1298.74" y="28.70" width="34.10" height="21" rx="10" fill="#ff2a2a"/>
<rect x="1354.94" y="28.70" width="20.05" height="21" rx="10" fill="#ff2a2a"/>
<rect x="1397.09" y="28.70" width="167.56" height="21" rx="10" fill="#ff2a2a"/>
<polyline stroke-opacity="0.6" fill="none" stroke="#ffb4b4" stroke-width="7.5" stroke-linejoin="round" points="163.77,372.59 170.80,217.01 177.82,111.43 184.85,68.09 191.87,50.31 198.90,42.53 205.92,40.31 212.95,39.20 219.97,39.20 227.00,39.20 234.02,39.20 241.04,39.20 248.07,39.20 255.09,39.20 262.12,39.20 269.14,344.81 276.17,155.89 283.19,110.32 290.22,62.54 297.24,368.14 304.26,165.89 311.29,91.43 318.31,60.31 325.34,46.98 332.36,41.42 339.39,39.20 346.41,39.20 353.44,39.20 360.46,39.20 367.49,344.81 374.51,155.89 381.53,86.99 388.56,55.87 395.58,368.14 402.61,165.89 409.63,91.43 416.66,60.31 423.68,46.98 430.71,41.42 437.73,39.20 444.75,39.20 451.78,39.20 458.80,39.20 465.83,39.20 472.85,39.20 479.88,344.81 486.90,155.89 493.93,86.99 500.95,55.87 507.97,368.14 515.00,165.89 522.02,91.43 529.05,60.31 536.07,46.98 543.10,41.42 550.12,39.20 557.15,39.20 564.17,39.20 571.20,39.20 578.22,39.20 585.24,39.20 592.27,39.20 599.29,39.20 606.32,344.81 613.34,155.89 620.37,110.32 627.39,62.54 634.42,368.14 641.44,165.89 648.46,91.43 655.49,60.31 662.51,368.14 669.54,165.89 676.56,91.43 683.59,60.31 690.61,46.98 697.64,41.42 704.66,39.20 711.69,39.20 718.71,39.20 725.73,39.20 732.76,344.81 739.78,155.89 746.81,86.99 753.83,55.87 760.86,44.76 767.88,40.31 774.91,39.20 781.93,39.20 788.95,39.20 795.98,39.20 803.00,39.20 810.03,39.20 817.05,39.20 824.08,39.20 831.10,39.20 838.13,39.20 845.15,39.20 852.18,48.09 859.20,60.31 866.22,49.20 873.25,353.70 880.27,155.89 887.30,86.99 894.32,55.87 901.35,44.76 908.37,40.31 915.40,349.25 922.42,155.89 929.44,86.99 936.47,55.87 943.49,44.76 950.52,40.31 957.54,39.20 964.57,39.20 971.59,344.81 978.62,155.89 985.64,86.99 992.67,55.87 999.69,44.76 1006.71,40.31 1013.74,39.20 1020.76,39.20 1027.79,39.20 1034.81,39.20 1041.84,344.81 1048.86,155.89 1055.89,86.99 1062.91,55.87 1069.93,44.76 1076.96,40.31 1083.98,39.20 1091.01,39.20 1098.03,344.81 1105.06,155.89 1112.08,86.99 1119.11,55.87 1126.13,44.76 1133.16,40.31 1140.18,39.20 1147.20,39.20 1154.23,344.81 1161.25,155.89 1168.28,86.99 1175.30,55.87 1182.33,44.76 1189.35,40.31 1196.38,39.20 1203.40,39.20 1210.42,39.20 1217.45,39.20 1224.47,39.20 1231.50,39.20 1238.52,39.20 1245.55,39.20 1252.57,344.81 1259.60,155.89 1266.62,110.32 1273.65,62.54 1280.67,368.14 1287.69,165.89 1294.72,91.43 1301.74,60.31 1308.77,46.98 1315.79,41.42 1322.82,39.20 1329.84,39.20 1336.87,344.81 1343.89,155.89 1350.91,86.99 1357.94,55.87 1364.96,44.76 1371.99,40.31 1379.01,344.81 1386.04,155.89 1393.06,86.99 1400.09,61.43 1407.11,44.76 1414.14,40.31 1421.16,39.20 1428.18,39.20 1435.21,39.20 1442.23,39.20 1449.26,39.20 1456.28,39.20 1463.31,39.20 1470.33,39.20 1477.36,39.20 1484.38,39.20 1491.40,39.20 1498.43,46.98 1505.45,58.09 1512.48,46.98 1519.50,39.20 1526.53,39.20 1533.55,39.20 1540.58,39.20 1547.60,39.20 1554.63,39.20 1561.65,39.20"/>
<polyline fill="none" stroke="#b41e1e" stroke-width="2.7" stroke-linejoin="round" points="163.77,372.59 170.80,217.01 177.82,111.43 184.85,68.09 191.87,50.31 198.90,42.53 205.92,40.31 212.95,39.20 219.97,39.20 227.00,39.20 234.02,39.20 241.04,39.20 248.07,39.20 255.09,39.20 262.12,39.20 269.14,344.81 276.17,155.89 283.19,110.32 290.22,62.54 297.24,368.14 304.26,165.89 311.29,91.43 318.31,60.31 325.34,46.98 332.36,41.42 339.39,39.20 346.41,39.20 353.44,39.20 360.46,39.20 367.49,344.81 374.51,155.89 381.53,86.99 388.56,55.87 395.58,368.14 402.61,165.89 409.63,91.43 416.66,60.31 423.68,46.98 430.71,41.42 437.73,39.20 444.75,39.20 451.78,39.20 458.80,39.20 465.83,39.20 472.85,39.20 479.88,344.81 486.90,155.89 493.93,86.99 500.95,55.87 507.97,368.14 515.00,165.89 522.02,91.43 529.05,60.31 536.07,46.98 543.10,41.42 550.12,39.20 557.15,39.20 564.17,39.20 571.20,39.20 578.22,39.20 585.24,39.20 592.27,39.20 599.29,39.20 606.32,344.81 613.34,155.89 620.37,110.32 627.39,62.54 634.42,368.14 641.44,165.89 648.46,91.43 655.49,60.31 662.51,368.14 669.54,165.89 676.56,91.43 683.59,60.31 690.61,46.98 697.64,41.42 704.66,39.20 711.69,39.20 718.71,39.20 725.73,39.20 732.76,344.81 739.78,155.89 746.81,86.99 753.83,55.87 760.86,44.76 767.88,40.31 774.91,39.20 781.93,39.20 788.95,39.20 795.98,39.20 803.00,39.20 810.03,39.20 817.05,39.20 824.08,39.20 831.10,39.20 838.13,39.20 845.15,39.20 852.18,48.09 859.20,60.31 866.22,49.20 873.25,353.70 880.27,155.89 887.30,86.99 894.32,55.87 901.35,44.76 908.37,40.31 915.40,349.25 922.42,155.89 929.44,86.99 936.47,55.87 943.49,44.76 950.52,40.31 957.54,39.20 964.57,39.20 971.59,344.81 978.62,155.89 985.64,86.99 992.67,55.87 999.69,44.76 1006.71,40.31 1013.74,39.20 1020.76,39.20 1027.79,39.20 1034.81,39.20 1041.84,344.81 1048.86,155.89 1055.89,86.99 1062.91,55.87 1069.93,44.76 1076.96,40.31 1083.98,39.20 1091.01,39.20 1098.03,344.81 1105.06,155.89 1112.08,86.99 1119.11,55.87 1126.13,44.76 1133.16,40.31 1140.18,39.20 1147.20,39.20 1154.23,344.81 1161.25,155.89 1168.28,86.99 1175.30,55.87 1182.33,44.76 1189.35,40.31 1196.38,39.20 1203.40,39.20 1210.42,39.20 1217.45,39.20 1224.47,39.20 1231.50,39.20 1238.52,39.20 1245.55,39.20 1252.57,344.81 1259.60,155.89 1266.62,110.32 1273.65,62.54 1280.67,368.14 1287.69,165.89 1294.72,91.43 1301.74,60.31 1308.77,46.98 1315.79,41.42 1322.82,39.20 1329.84,39.20 1336.87,344.81 1343.89,155.89 1350.91,86.99 1357.94,55.87 1364.96,44.76 1371.99,40.31 1379.01,344.81 1386.04,155.89 1393.06,86.99 1400.09,61.43 1407.11,44.76 1414.14,40.31 1421.16,39.20 1428.18,39.20 1435.21,39.20 1442.23,39.20 1449.26,39.20 1456.28,39.20 1463.31,39.20 1470.33,39.20 1477.36,39.20 1484.38,39.20 1491.40,39.20 1498.43,46.98 1505.45,58.09 1512.48,46.98 1519.50,39.20 1526.53,39.20 1533.55,39.20 1540.58,39.20 1547.60,39.20 1554.63,39.20 1561.65,39.20"/>
<path fill="#ff0000" fill-opacity="0.06" stroke="#f01a1a" stroke-width="2.6" d="M179.57 50.31a12.3 12.3 0 1 0 24.6 0a12.3 12.3 0 1 0 -24.6 0M186.60 42.53a12.3 12.3 0 1 0 24.6 0a12.3 12.3 0 1 0 -24.6 0M193.62 40.31a12.3 12.3 0 1 0 24.6 0a12.3 12.3 0 1 0 -24.6 0M200.65 39.20a12.3 12.3 0 1 0 24.6 0a12.3 12.3 0 1 0 -24.6 0M207.67 39.20a12.3 12.3 0 1 0 24.6 0a12.3 12.3 0 1 0 -24.6 0M214.69 39.20a12.3 12.3 0 1 0 24.6 0a12.3 12.3 0 1 0 -24.6 0M221.72 39.20a12.3 12.3 0 1 0 24.6 0a12.3 12.3 0 1 0 -24.6 0M228.74 39.20a12.3 12.3 0 1 0 24.6 0a12.3 12.3 0 1 0 -24.6 0M235.77 39.20a12.3 12.3 0 1 0 24.6 0a12.3 12.3 0 1 0 -24.6 0M242.79 39.20a12.3 12.3 0 1 0 24.6 0a12.3 12.3 0 1 0 -24.6 0M249.82 39.20a12.3 12.3 0 1 0 24.6 0a12.3 12.3 0 1 0 -24.6 0M313.04 46.98a12.3 12.3 0 1 0 24.6 0a12.3 12.3 0 1 0 -24.6 0M320.06 41.42a12.3 12.3 0 1 0 24.6 0a12.3 12.3 0 1 0 -24.6 0M327.09 39.20a12.3 12.3 0 1 0 24.6 0a12.3 12.3 0 1 0 -24.6 0M334.11 39.20a12.3 12.3 0 1 0 24.6 0a12.3 12.3 0 1 0 -24.6 0M341.14 39.20a12.3 12.3 0 1 0 24.6 0a12.3 12.3 0 1 0 -24.6 0M348.16 39.20a12.3 12.3 0 1 0 24.6 0a12.3 12.3 0 1 0 -24.6 0M411.38 46.98a12.3 12.3 0 1 0 24.6 0a12.3 12.3 0 1 0 -24.6 0M418.41 41.42a12.3 12.3 0 1 0 24.6 0a12.3 12.3 0 1 0 -24.6 0M425.43 39.20a12.3 12.3 0 1 0 24.6 0a12.3 12.3 0 1 0 -24.6 0M432.45 39.20a12.3 12.3 0 1 0 24.6 0a12.3 12.3 0 1 0 -24.6 0M439.48 39.20a12.3 12.3 0 1 0 24.6 0a12.3 12.3 0 1 0 -24.6 0M446.50 39.20a12.3 12.3 0 1 0 24.6 0a12.3 12.3 0 1 0 -24.6 0M453.53 39.20a12.3 12.3 0 1 0 24.6 0a12.3 12.3 0 1 0 -24.6 0M460.55 39.20a12.3 12.3 0 1 0 24.6 0a12.3 12.3 0 1 0 -24.6 0M523.77 46.98a12.3 12.3 0 1 0 24.6 0a12.3 12.3 0 1 0 -24.6 0M530.80 41.42a12.3 12.3 0 1 0 24.6 0a12.3 12.3 0 1 0 -24.6 0M537.82 39.20a12.3 12.3 0 1 0 24.6 0a12.3 12.3 0 1 0 -24.6 0M544.85 39.20a12.3 12.3 0 1 0 24.6 0a12.3 12.3 0 1 0 -24.6 0M551.87 39.20a12.3 12.3 0 1 0 24.6 0a12.3 12.3 0 1 0 -24.6 0M558.90 39.20a12.3 12.3 0 1 0 24.6 0a12.3 12.3 0 1 0 -24.6 0M565.92 39.20a12.3 12.3 0 1 0 24.6 0a12.3 12.3 0 1 0 -24.6 0M572.94 39.20a12.3 12.3 0 1 0 24.6 0a12.3 12.3 0 1 0 -24.6 0M579.97 39.20a12.3 12.3 0 1 0 24.6 0a12.3 12.3 0 1 0 -24.6 0M586.99 39.20a12.3 12.3 0 1 0 24.6 0a12.3 12.3 0 1 0 -24.6 0M678.31 46.98a12.3 12.3 0 1 0 24.6 0a12.3 12.3 0 1 0 -24.6 0M685.34 41.42a12.3 12.3 0 1 0 24.6 0a12.3 12.3 0 1 0 -24.6 0M692.36 39.20a12.3 12.3 0 1 0 24.6 0a12.3 12.3 0 1 0 -24.6 0M699.39 39.20a12.3 12.3 0 1 0 24.6 0a12.3 12.3 0 1 0 -24.6 0M706.41 39.20a12.3 12.3 0 1 0 24.6 0a12.3 12.3 0 1 0 -24.6 0M713.43 39.20a12.3 12.3 0 1 0 24.6 0a12.3 12.3 0 1 0 -24.6 0M748.56 44.76a12.3 12.3 0 1 0 24.6 0a12.3 12.3 0 1 0 -24.6 0M755.58 40.31a12.3 12.3 0 1 0 24.6 0a12.3 12.3 0 1 0 -24.6 0M762.61 39.20a12.3 12.3 0 1 0 24.6 0a12.3 12.3 0 1 0 -24.6 0M769.63 39.20a12.3 12.3 0 1 0 24.6 0a12.3 12.3 0 1 0 -24.6 0M776.65 39.20a12.3 12.3 0 1 0 24.6 0a12.3 12.3 0 1 0 -24.6 0M783.68 39.20a12.3 12.3 0 1 0 24.6 0a12.3 12.3 0 1 0 -24.6 0M790.70 39.20a12.3 12.3 0 1 0 24.6 0a12.3 12.3 0 1 0 -24.6 0M797.73 39.20a12.3 12.3 0 1 0 24.6 0a12.3 12.3 0 1 0 -24.6 0M804.75 39.20a12.3 12.3 0 1 0 24.6 0a12.3 12.3 0 1 0 -24.6 0M811.78 39.20a12.3 12.3 0 1 0 24.6 0a12.3 12.3 0 1 0 -24.6 0M818.80 39.20a12.3 12.3 0 1 0 24.6 0a12.3 12.3 0 1 0 -24.6 0M825.83 39.20a12.3 12.3 0 1 0 24.6 0a12.3 12.3 0 1 0 -24.6 0M832.85 39.20a12.3 12.3 0 1 0 24.6 0a12.3 12.3 0 1 0 -24.6 0M839.88 48.09a12.3 12.3 0 1 0 24.6 0a12.3 12.3 0 1 0 -24.6 0M853.92 49.20a12.3 12.3 0 1 0 24.6 0a12.3 12.3 0 1 0 -24.6 0M889.05 44.76a12.3 12.3 0 1 0 24.6 0a12.3 12.3 0 1 0 -24.6 0M896.07 40.31a12.3 12.3 0 1 0 24.6 0a12.3 12.3 0 1 0 -24.6 0M931.19 44.76a12.3 12.3 0 1 0 24.6 0a12.3 12.3 0 1 0 -24.6 0M938.22 40.31a12.3 12.3 0 1 0 24.6 0a12.3 12.3 0 1 0 -24.6 0M945.24 39.20a12.3 12.3 0 1 0 24.6 0a12.3 12.3 0 1 0 -24.6 0M952.27 39.20a12.3 12.3 0 1 0 24.6 0a12.3 12.3 0 1 0 -24.6 0M987.39 44.76a12.3 12.3 0 1 0 24.6 0a12.3 12.3 0 1 0 -24.6 0M994.41 40.31a12.3 12.3 0 1 0 24.6 0a12.3 12.3 0 1 0 -24.6 0M1001.44 39.20a12.3 12.3 0 1 0 24.6 0a12.3 12.3 0 1 0 -24.6 0M1008.46 39.20a12.3 12.3 0 1 0 24.6 0a12.3 12.3 0 1 0 -24.6 0M1015.49 39.20a12.3 12.3 0 1 0 24.6 0a12.3 12.3 0 1 0 -24.6 0M1022.51 39.20a12.3 12.3 0 1 0 24.6 0a12.3 12.3 0 1 0 -24.6 0M1057.63 44.76a12.3 12.3 0 1 0 24.6 0a12.3 12.3 0 1 0 -24.6 0M1064.66 40.31a12.3 12.3 0 1 0 24.6 0a12.3 12.3 0 1 0 -24.6 0M1071.68 39.20a12.3 12.3 0 1 0 24.6 0a12.3 12.3 0 1 0 -24.6 0M1078.71 39.20a12.3 12.3 0 1 0 24.6 0a12.3 12.3 0 1 0 -24.6 0M1113.83 44.76a12.3 12.3 0 1 0 24.6 0a12.3 12.3 0 1 0 -24.6 0M1120.86 40.31a12.3 12.3 0 1 0 24.6 0a12.3 12.3 0 1 0 -24.6 0M1127.88 39.20a12.3 12.3 0 1 0 24.6 0a12.3 12.3 0 1 0 -24.6 0M1134.90 39.20a12.3 12.3 0 1 0 24.6 0a12.3 12.3 0 1 0 -24.6 0M1170.03 44.76a12.3 12.3 0 1 0 24.6 0a12.3 12.3 0 1 0 -24.6 0M1177.05 40.31a12.3 12.3 0 1 0 24.6 0a12.3 12.3 0 1 0 -24.6 0M1184.08 39.20a12.3 12.3 0 1 0 24.6 0a12.3 12.3 0 1 0 -24.6 0M1191.10 39.20a12.3 12.3 0 1 0 24.6 0a12.3 12.3 0 1 0 -24.6 0M1198.12 39.20a12.3 12.3 0 1 0 24.6 0a12.3 12.3 0 1 0 -24.6 0M1205.15 39.20a12.3 12.3 0 1 0 24.6 0a12.3 12.3 0 1 0 -24.6 0M1212.17 39.20a12.3 12.3 0 1 0 24.6 0a12.3 12.3 0 1 0 -24.6 0M1219.20 39.20a12.3 12.3 0 1 0 24.6 0a12.3 12.3 0 1 0 -24.6 0M1226.22 39.20a12.3 12.3 0 1 0 24.6 0a12.3 12.3 0 1 0 -24.6 0M1233.25 39.20a12.3 12.3 0 1 0 24.6 0a12.3 12.3 0 1 0 -24.6 0M1296.47 46.98a12.3 12.3 0 1 0 24.6 0a12.3 12.3 0 1 0 -24.6 0M1303.49 41.42a12.3 12.3 0 1 0 24.6 0a12.3 12.3 0 1 0 -24.6 0M1310.52 39.20a12.3 12.3 0 1 0 24.6 0a12.3 12.3 0 1 0 -24.6 0M1317.54 39.20a12.3 12.3 0 1 0 24.6 0a12.3 12.3 0 1 0 -24.6 0M1352.66 44.76a12.3 12.3 0 1 0 24.6 0a12.3 12.3 0 1 0 -24.6 0M1359.69 40.31a12.3 12.3 0 1 0 24.6 0a12.3 12.3 0 1 0 -24.6 0M1394.81 44.76a12.3 12.3 0 1 0 24.6 0a12.3 12.3 0 1 0 -24.6 0M1401.84 40.31a12.3 12.3 0 1 0 24.6 0a12.3 12.3 0 1 0 -24.6 0M1408.86 39.20a12.3 12.3 0 1 0 24.6 0a12.3 12.3 0 1 0 -24.6 0M1415.88 39.20a12.3 12.3 0 1 0 24.6 0a12.3 12.3 0 1 0 -24.6 0M1422.91 39.20a12.3 12.3 0 1 0 24.6 0a12.3 12.3 0 1 0 -24.6 0M1429.93 39.20a12.3 12.3 0 1 0 24.6 0a12.3 12.3 0 1 0 -24.6 0M1436.96 39.20a12.3 12.3 0 1 0 24.6 0a12.3 12.3 0 1 0 -24.6 0M1443.98 39.20a12.3 12.3 0 1 0 24.6 0a12.3 12.3 0 1 0 -24.6 0M1451.01 39.20a12.3 12.3 0 1 0 24.6 0a12.3 12.3 0 1 0 -24.6 0M1458.03 39.20a12.3 12.3 0 1 0 24.6 0a12.3 12.3 0 1 0 -24.6 0M1465.06 39.20a12.3 12.3 0 1 0 24.6 0a12.3 12.3 0 1 0 -24.6 0M1472.08 39.20a12.3 12.3 0 1 0 24.6 0a12.3 12.3 0 1 0 -24.6 0M1479.11 39.20a12.3 12.3 0 1 0 24.6 0a12.3 12.3 0 1 0 -24.6 0M1486.13 46.98a12.3 12.3 0 1 0 24.6 0a12.3 12.3 0 1 0 -24.6 0M1500.18 46.98a12.3 12.3 0 1 0 24.6 0a12.3 12.3 0 1 0 -24.6 0M1507.20 39.20a12.3 12.3 0 1 0 24.6 0a12.3 12.3 0 1 0 -24.6 0M1514.23 39.20a12.3 12.3 0 1 0 24.6 0a12.3 12.3 0 1 0 -24.6 0M1521.25 39.20a12.3 12.3 0 1 0 24.6 0a12.3 12.3 0 1 0 -24.6 0M1528.28 39.20a12.3 12.3 0 1 0 24.6 0a12.3 12.3 0 1 0 -24.6 0M1535.30 39.20a12.3 12.3 0 1 0 24.6 0a12.3 12.3 0 1 0 -24.6 0M1542.33 39.20a12.3 12.3 0 1 0 24.6 0a12.3 12.3 0 1 0 -24.6 0M1549.35 39.20a12.3 12.3 0 1 0 24.6 0a12.3 12.3 0 1 0 -24.6 0"/>
<path fill="#ff0000" fill-opacity="0.06" stroke="#d02222" stroke-width="2.6" d="M151.47 372.59a12.3 12.3 0 1 0 24.6 0a12.3 12.3 0 1 0 -24.6 0M158.50 217.01a12.3 12.3 0 1 0 24.6 0a12.3 12.3 0 1 0 -24.6 0M165.52 111.43a12.3 12.3 0 1 0 24.6 0a12.3 12.3 0 1 0 -24.6 0M172.55 68.09a12.3 12.3 0 1 0 24.6 0a12.3 12.3 0 1 0 -24.6 0M256.84 344.81a12.3 12.3 0 1 0 24.6 0a12.3 12.3 0 1 0 -24.6 0M263.87 155.89a12.3 12.3 0 1 0 24.6 0a12.3 12.3 0 1 0 -24.6 0M270.89 110.32a12.3 12.3 0 1 0 24.6 0a12.3 12.3 0 1 0 -24.6 0M277.92 62.54a12.3 12.3 0 1 0 24.6 0a12.3 12.3 0 1 0 -24.6 0M284.94 368.14a12.3 12.3 0 1 0 24.6 0a12.3 12.3 0 1 0 -24.6 0M291.96 165.89a12.3 12.3 0 1 0 24.6 0a12.3 12.3 0 1 0 -24.6 0M298.99 91.43a12.3 12.3 0 1 0 24.6 0a12.3 12.3 0 1 0 -24.6 0M306.01 60.31a12.3 12.3 0 1 0 24.6 0a12.3 12.3 0 1 0 -24.6 0M355.19 344.81a12.3 12.3 0 1 0 24.6 0a12.3 12.3 0 1 0 -24.6 0M362.21 155.89a12.3 12.3 0 1 0 24.6 0a12.3 12.3 0 1 0 -24.6 0M369.23 86.99a12.3 12.3 0 1 0 24.6 0a12.3 12.3 0 1 0 -24.6 0M376.26 55.87a12.3 12.3 0 1 0 24.6 0a12.3 12.3 0 1 0 -24.6 0M383.28 368.14a12.3 12.3 0 1 0 24.6 0a12.3 12.3 0 1 0 -24.6 0M390.31 165.89a12.3 12.3 0 1 0 24.6 0a12.3 12.3 0 1 0 -24.6 0M397.33 91.43a12.3 12.3 0 1 0 24.6 0a12.3 12.3 0 1 0 -24.6 0M404.36 60.31a12.3 12.3 0 1 0 24.6 0a12.3 12.3 0 1 0 -24.6 0M467.58 344.81a12.3 12.3 0 1 0 24.6 0a12.3 12.3 0 1 0 -24.6 0M474.60 155.89a12.3 12.3 0 1 0 24.6 0a12.3 12.3 0 1 0 -24.6 0M481.63 86.99a12.3 12.3 0 1 0 24.6 0a12.3 12.3 0 1 0 -24.6 0M488.65 55.87a12.3 12.3 0 1 0 24.6 0a12.3 12.3 0 1 0 -24.6 0M495.67 368.14a12.3 12.3 0 1 0 24.6 0a12.3 12.3 0 1 0 -24.6 0M502.70 165.89a12.3 12.3 0 1 0 24.6 0a12.3 12.3 0 1 0 -24.6 0M509.72 91.43a12.3 12.3 0 1 0 24.6 0a12.3 12.3 0 1 0 -24.6 0M516.75 60.31a12.3 12.3 0 1 0 24.6 0a12.3 12.3 0 1 0 -24.6 0M594.02 344.81a12.3 12.3 0 1 0 24.6 0a12.3 12.3 0 1 0 -24.6 0M601.04 155.89a12.3 12.3 0 1 0 24.6 0a12.3 12.3 0 1 0 -24.6 0M608.07 110.32a12.3 12.3 0 1 0 24.6 0a12.3 12.3 0 1 0 -24.6 0M615.09 62.54a12.3 12.3 0 1 0 24.6 0a12.3 12.3 0 1 0 -24.6 0M622.12 368.14a12.3 12.3 0 1 0 24.6 0a12.3 12.3 0 1 0 -24.6 0M629.14 165.89a12.3 12.3 0 1 0 24.6 0a12.3 12.3 0 1 0 -24.6 0M636.16 91.43a12.3 12.3 0 1 0 24.6 0a12.3 12.3 0 1 0 -24.6 0M643.19 60.31a12.3 12.3 0 1 0 24.6 0a12.3 12.3 0 1 0 -24.6 0M650.21 368.14a12.3 12.3 0 1 0 24.6 0a12.3 12.3 0 1 0 -24.6 0M657.24 165.89a12.3 12.3 0 1 0 24.6 0a12.3 12.3 0 1 0 -24.6 0M664.26 91.43a12.3 12.3 0 1 0 24.6 0a12.3 12.3 0 1 0 -24.6 0M671.29 60.31a12.3 12.3 0 1 0 24.6 0a12.3 12.3 0 1 0 -24.6 0M720.46 344.81a12.3 12.3 0 1 0 24.6 0a12.3 12.3 0 1 0 -24.6 0M727.48 155.89a12.3 12.3 0 1 0 24.6 0a12.3 12.3 0 1 0 -24.6 0M734.51 86.99a12.3 12.3 0 1 0 24.6 0a12.3 12.3 0 1 0 -24.6 0M741.53 55.87a12.3 12.3 0 1 0 24.6 0a12.3 12.3 0 1 0 -24.6 0M846.90 60.31a12.3 12.3 0 1 0 24.6 0a12.3 12.3 0 1 0 -24.6 0M860.95 353.70a12.3 12.3 0 1 0 24.6 0a12.3 12.3 0 1 0 -24.6 0M867.97 155.89a12.3 12.3 0 1 0 24.6 0a12.3 12.3 0 1 0 -24.6 0M875.00 86.99a12.3 12.3 0 1 0 24.6 0a12.3 12.3 0 1 0 -24.6 0M882.02 55.87a12.3 12.3 0 1 0 24.6 0a12.3 12.3 0 1 0 -24.6 0M903.10 349.25a12.3 12.3 0 1 0 24.6 0a12.3 12.3 0 1 0 -24.6 0M910.12 155.89a12.3 12.3 0 1 0 24.6 0a12.3 12.3 0 1 0 -24.6 0M917.14 86.99a12.3 12.3 0 1 0 24.6 0a12.3 12.3 0 1 0 -24.6 0M924.17 55.87a12.3 12.3 0 1 0 24.6 0a12.3 12.3 0 1 0 -24.6 0M959.29 344.81a12.3 12.3 0 1 0 24.6 0a12.3 12.3 0 1 0 -24.6 0M966.32 155.89a12.3 12.3 0 1 0 24.6 0a12.3 12.3 0 1 0 -24.6 0M973.34 86.99a12.3 12.3 0 1 0 24.6 0a12.3 12.3 0 1 0 -24.6 0M980.37 55.87a12.3 12.3 0 1 0 24.6 0a12.3 12.3 0 1 0 -24.6 0M1029.54 344.81a12.3 12.3 0 1 0 24.6 0a12.3 12.3 0 1 0 -24.6 0M1036.56 155.89a12.3 12.3 0 1 0 24.6 0a12.3 12.3 0 1 0 -24.6 0M1043.59 86.99a12.3 12.3 0 1 0 24.6 0a12.3 12.3 0 1 0 -24.6 0M1050.61 55.87a12.3 12.3 0 1 0 24.6 0a12.3 12.3 0 1 0 -24.6 0M1085.73 344.81a12.3 12.3 0 1 0 24.6 0a12.3 12.3 0 1 0 -24.6 0M1092.76 155.89a12.3 12.3 0 1 0 24.6 0a12.3 12.3 0 1 0 -24.6 0M1099.78 86.99a12.3 12.3 0 1 0 24.6 0a12.3 12.3 0 1 0 -24.6 0M1106.81 55.87a12.3 12.3 0 1 0 24.6 0a12.3 12.3 0 1 0 -24.6 0M1141.93 344.81a12.3 12.3 0 1 0 24.6 0a12.3 12.3 0 1 0 -24.6 0M1148.95 155.89a12.3 12.3 0 1 0 24.6 0a12.3 12.3 0 1 0 -24.6 0M1155.98 86.99a12.3 12.3 0 1 0 24.6 0a12.3 12.3 0 1 0 -24.6 0M1163.00 55.87a12.3 12.3 0 1 0 24.6 0a12.3 12.3 0 1 0 -24.6 0M1240.27 344.81a12.3 12.3 0 1 0 24.6 0a12.3 12.3 0 1 0 -24.6 0M1247.30 155.89a12.3 12.3 0 1 0 24.6 0a12.3 12.3 0 1 0 -24.6 0M1254.32 110.32a12.3 12.3 0 1 0 24.6 0a12.3 12.3 0 1 0 -24.6 0M1261.35 62.54a12.3 12.3 0 1 0 24.6 0a12.3 12.3 0 1 0 -24.6 0M1268.37 368.14a12.3 12.3 0 1 0 24.6 0a12.3 12.3 0 1 0 -24.6 0M1275.39 165.89a12.3 12.3 0 1 0 24.6 0a12.3 12.3 0 1 0 -24.6 0M1282.42 91.43a12.3 12.3 0 1 0 24.6 0a12.3 12.3 0 1 0 -24.6 0M1289.44 60.31a12.3 12.3 0 1 0 24.6 0a12.3 12.3 0 1 0 -24.6 0M1324.57 344.81a12.3 12.3 0 1 0 24.6 0a12.3 12.3 0 1 0 -24.6 0M1331.59 155.89a12.3 12.3 0 1 0 24.6 0a12.3 12.3 0 1 0 -24.6 0M1338.62 86.99a12.3 12.3 0 1 0 24.6 0a12.3 12.3 0 1 0 -24.6 0M1345.64 55.87a12.3 12.3 0 1 0 24.6 0a12.3 12.3 0 1 0 -24.6 0M1366.71 344.81a12.3 12.3 0 1 0 24.6 0a12.3 12.3 0 1 0 -24.6 0M1373.74 155.89a12.3 12.3 0 1 0 24.6 0a12.3 12.3 0 1 0 -24.6 0M1380.76 86.99a12.3 12.3 0 1 0 24.6 0a12.3 12.3 0 1 0 -24.6 0M1387.79 61.43a12.3 12.3 0 1 0 24.6 0a12.3 12.3 0 1 0 -24.6 0M1493.15 58.09a12.3 12.3 0 1 0 24.6 0a12.3 12.3 0 1 0 -24.6 0"/>
<line x1="195.87" y1="39.20" x2="258.12" y2="39.20" stroke="#b00c0c" stroke-width="2.4" stroke-opacity="0.85"/>
<line x1="322.31" y1="39.20" x2="356.46" y2="39.20" stroke="#b00c0c" stroke-width="2.4" stroke-opacity="0.85"/>
<line x1="420.66" y1="39.20" x2="468.85" y2="39.20" stroke="#b00c0c" stroke-width="2.4" stroke-opacity="0.85"/>
<line x1="533.05" y1="39.20" x2="595.29" y2="39.20" stroke="#b00c0c" stroke-width="2.4" stroke-opacity="0.85"/>
<line x1="687.59" y1="39.20" x2="721.73" y2="39.20" stroke="#b00c0c" stroke-width="2.4" stroke-opacity="0.85"/>
<line x1="757.83" y1="39.20" x2="862.22" y2="39.20" stroke="#b00c0c" stroke-width="2.4" stroke-opacity="0.85"/>
<line x1="898.32" y1="39.20" x2="904.37" y2="39.20" stroke="#b00c0c" stroke-width="2.4" stroke-opacity="0.85"/>
<line x1="940.47" y1="39.20" x2="960.57" y2="39.20" stroke="#b00c0c" stroke-width="2.4" stroke-opacity="0.85"/>
<line x1="996.67" y1="39.20" x2="1030.81" y2="39.20" stroke="#b00c0c" stroke-width="2.4" stroke-opacity="0.85"/>
<line x1="1066.91" y1="39.20" x2="1087.01" y2="39.20" stroke="#b00c0c" stroke-width="2.4" stroke-opacity="0.85"/>
<line x1="1123.11" y1="39.20" x2="1143.20" y2="39.20" stroke="#b00c0c" stroke-width="2.4" stroke-opacity="0.85"/>
<line x1="1179.30" y1="39.20" x2="1241.55" y2="39.20" stroke="#b00c0c" stroke-width="2.4" stroke-opacity="0.85"/>
<line x1="1305.74" y1="39.20" x2="1325.84" y2="39.20" stroke="#b00c0c" stroke-width="2.4" stroke-opacity="0.85"/>
<line x1="1361.94" y1="39.20" x2="1367.99" y2="39.20" stroke="#b00c0c" stroke-width="2.4" stroke-opacity="0.85"/>
<line x1="1404.09" y1="39.20" x2="1557.65" y2="39.20" stroke="#b00c0c" stroke-width="2.4" stroke-opacity="0.85"/>
<polyline fill="none" stroke="#eeea50" stroke-width="2.7" stroke-linejoin="round" points="163.77,1150.50 170.80,1150.50 177.82,1150.50 184.85,1150.50 191.87,1150.50 198.90,1150.50 205.92,1150.50 212.95,1150.50 219.97,1150.50 227.00,1150.50 234.02,1150.50 241.04,1150.50 248.07,1150.50 255.09,1150.50 262.12,1150.50 269.14,1111.60 276.17,1150.50 283.19,1150.50 290.22,1150.50 297.24,1111.60 304.26,1150.50 311.29,1150.50 318.31,1150.50 325.34,1150.50 332.36,1150.50 339.39,1150.50 346.41,1150.50 353.44,1150.50 360.46,1150.50 367.49,1111.60 374.51,1150.50 381.53,1150.50 388.56,1150.50 395.58,1111.60 402.61,1150.50 409.63,1150.50 416.66,1150.50 423.68,1150.50 430.71,1150.50 437.73,1150.50 444.75,1150.50 451.78,1150.50 458.80,1150.50 465.83,1150.50 472.85,1150.50 479.88,1111.60 486.90,1150.50 493.93,1150.50 500.95,1150.50 507.97,1111.60 515.00,1150.50 522.02,1150.50 529.05,1150.50 536.07,1150.50 543.10,1150.50 550.12,1150.50 557.15,1150.50 564.17,1150.50 571.20,1150.50 578.22,1150.50 585.24,1150.50 592.27,1150.50 599.29,1150.50 606.32,1111.60 613.34,1150.50 620.37,1150.50 627.39,1150.50 634.42,1111.60 641.44,1150.50 648.46,1150.50 655.49,1150.50 662.51,1111.60 669.54,1150.50 676.56,1150.50 683.59,1150.50 690.61,1150.50 697.64,1150.50 704.66,1150.50 711.69,1150.50 718.71,1150.50 725.73,1150.50 732.76,1111.60 739.78,1150.50 746.81,1150.50 753.83,1150.50 760.86,1150.50 767.88,1150.50 774.91,1150.50 781.93,1150.50 788.95,1150.50 795.98,1150.50 803.00,1150.50 810.03,1150.50 817.05,1150.50 824.08,1150.50 831.10,1150.50 838.13,1150.50 845.15,1150.50 852.18,1150.50 859.20,1150.50 866.22,1150.50 873.25,1111.60 880.27,1150.50 887.30,1150.50 894.32,1150.50 901.35,1150.50 908.37,1150.50 915.40,1111.60 922.42,1150.50 929.44,1150.50 936.47,1150.50 943.49,1150.50 950.52,1150.50 957.54,1150.50 964.57,1150.50 971.59,1111.60 978.62,1150.50 985.64,1150.50 992.67,1150.50 999.69,1150.50 1006.71,1150.50 1013.74,1150.50 1020.76,1150.50 1027.79,1150.50 1034.81,1150.50 1041.84,1111.60 1048.86,1150.50 1055.89,1150.50 1062.91,1150.50 1069.93,1150.50 1076.96,1150.50 1083.98,1150.50 1091.01,1150.50 1098.03,1111.60 1105.06,1150.50 1112.08,1150.50 1119.11,1150.50 1126.13,1150.50 1133.16,1150.50 1140.18,1150.50 1147.20,1150.50 1154.23,1111.60 1161.25,1150.50 1168.28,1150.50 1175.30,1150.50 1182.33,1150.50 1189.35,1150.50 1196.38,1150.50 1203.40,1150.50 1210.42,1150.50 1217.45,1150.50 1224.47,1150.50 1231.50,1150.50 1238.52,1150.50 1245.55,1150.50 1252.57,1111.60 1259.60,1150.50 1266.62,1150.50 1273.65,1150.50 1280.67,1111.60 1287.69,1150.50 1294.72,1150.50 1301.74,1150.50 1308.77,1150.50 1315.79,1150.50 1322.82,1150.50 1329.84,1150.50 1336.87,1111.60 1343.89,1150.50 1350.91,1150.50 1357.94,1150.50 1364.96,1150.50 1371.99,1150.50 1379.01,1111.60 1386.04,1150.50 1393.06,1150.50 1400.09,1150.50 1407.11,1150.50 1414.14,1150.50 1421.16,1150.50 1428.18,1150.50 1435.21,1150.50 1442.23,1150.50 1449.26,1150.50 1456.28,1150.50 1463.31,1150.50 1470.33,1150.50 1477.36,1150.50 1484.38,1150.50 1491.40,1150.50 1498.43,1150.50 1505.45,1150.50 1512.48,1150.50 1519.50,1150.50 1526.53,1150.50 1533.55,1150.50 1540.58,1150.50 1547.60,1150.50 1554.63,1150.50 1561.65,1150.50"/>
<path fill="none" stroke="#f0ee78" stroke-width="2.6" d="M149.17 1142.43h29.2l-14.6 24.2zM156.20 1142.43h29.2l-14.6 24.2zM163.22 1142.43h29.2l-14.6 24.2zM170.25 1142.43h29.2l-14.6 24.2zM177.27 1142.43h29.2l-14.6 24.2zM184.30 1142.43h29.2l-14.6 24.2zM191.32 1142.43h29.2l-14.6 24.2zM198.35 1142.43h29.2l-14.6 24.2zM205.37 1142.43h29.2l-14.6 24.2zM212.40 1142.43h29.2l-14.6 24.2zM219.42 1142.43h29.2l-14.6 24.2zM226.44 1142.43h29.2l-14.6 24.2zM233.47 1142.43h29.2l-14.6 24.2zM240.49 1142.43h29.2l-14.6 24.2zM247.52 1142.43h29.2l-14.6 24.2zM254.54 1103.54h29.2l-14.6 24.2zM261.57 1142.43h29.2l-14.6 24.2zM268.59 1142.43h29.2l-14.6 24.2zM275.62 1142.43h29.2l-14.6 24.2zM282.64 1103.54h29.2l-14.6 24.2zM289.66 1142.43h29.2l-14.6 24.2zM296.69 1142.43h29.2l-14.6 24.2zM303.71 1142.43h29.2l-14.6 24.2zM310.74 1142.43h29.2l-14.6 24.2zM317.76 1142.43h29.2l-14.6 24.2zM324.79 1142.43h29.2l-14.6 24.2zM331.81 1142.43h29.2l-14.6 24.2zM338.84 1142.43h29.2l-14.6 24.2zM345.86 1142.43h29.2l-14.6 24.2zM352.88 1103.54h29.2l-14.6 24.2zM359.91 1142.43h29.2l-14.6 24.2zM366.93 1142.43h29.2l-14.6 24.2zM373.96 1142.43h29.2l-14.6 24.2zM380.98 1103.54h29.2l-14.6 24.2zM388.01 1142.43h29.2l-14.6 24.2zM395.03 1142.43h29.2l-14.6 24.2zM402.06 1142.43h29.2l-14.6 24.2zM409.08 1142.43h29.2l-14.6 24.2zM416.11 1142.43h29.2l-14.6 24.2zM423.13 1142.43h29.2l-14.6 24.2zM430.15 1142.43h29.2l-14.6 24.2zM437.18 1142.43h29.2l-14.6 24.2zM444.20 1142.43h29.2l-14.6 24.2zM451.23 1142.43h29.2l-14.6 24.2zM458.25 1142.43h29.2l-14.6 24.2zM465.28 1103.54h29.2l-14.6 24.2zM472.30 1142.43h29.2l-14.6 24.2zM479.33 1142.43h29.2l-14.6 24.2zM486.35 1142.43h29.2l-14.6 24.2zM493.37 1103.54h29.2l-14.6 24.2zM500.40 1142.43h29.2l-14.6 24.2zM507.42 1142.43h29.2l-14.6 24.2zM514.45 1142.43h29.2l-14.6 24.2zM521.47 1142.43h29.2l-14.6 24.2zM528.50 1142.43h29.2l-14.6 24.2zM535.52 1142.43h29.2l-14.6 24.2zM542.55 1142.43h29.2l-14.6 24.2zM549.57 1142.43h29.2l-14.6 24.2zM556.60 1142.43h29.2l-14.6 24.2zM563.62 1142.43h29.2l-14.6 24.2zM570.64 1142.43h29.2l-14.6 24.2zM577.67 1142.43h29.2l-14.6 24.2zM584.69 1142.43h29.2l-14.6 24.2zM591.72 1103.54h29.2l-14.6 24.2zM598.74 1142.43h29.2l-14.6 24.2zM605.77 1142.43h29.2l-14.6 24.2zM612.79 1142.43h29.2l-14.6 24.2zM619.82 1103.54h29.2l-14.6 24.2zM626.84 1142.43h29.2l-14.6 24.2zM633.86 1142.43h29.2l-14.6 24.2zM640.89 1142.43h29.2l-14.6 24.2zM647.91 1103.54h29.2l-14.6 24.2zM654.94 1142.43h29.2l-14.6 24.2zM661.96 1142.43h29.2l-14.6 24.2zM668.99 1142.43h29.2l-14.6 24.2zM676.01 1142.43h29.2l-14.6 24.2zM683.04 1142.43h29.2l-14.6 24.2zM690.06 1142.43h29.2l-14.6 24.2zM697.09 1142.43h29.2l-14.6 24.2zM704.11 1142.43h29.2l-14.6 24.2zM711.13 1142.43h29.2l-14.6 24.2zM718.16 1103.54h29.2l-14.6 24.2zM725.18 1142.43h29.2l-14.6 24.2zM732.21 1142.43h29.2l-14.6 24.2zM739.23 1142.43h29.2l-14.6 24.2zM746.26 1142.43h29.2l-14.6 24.2zM753.28 1142.43h29.2l-14.6 24.2zM760.31 1142.43h29.2l-14.6 24.2zM767.33 1142.43h29.2l-14.6 24.2zM774.35 1142.43h29.2l-14.6 24.2zM781.38 1142.43h29.2l-14.6 24.2zM788.40 1142.43h29.2l-14.6 24.2zM795.43 1142.43h29.2l-14.6 24.2zM802.45 1142.43h29.2l-14.6 24.2zM809.48 1142.43h29.2l-14.6 24.2zM816.50 1142.43h29.2l-14.6 24.2zM823.53 1142.43h29.2l-14.6 24.2zM830.55 1142.43h29.2l-14.6 24.2zM837.58 1142.43h29.2l-14.6 24.2zM844.60 1142.43h29.2l-14.6 24.2zM851.62 1142.43h29.2l-14.6 24.2zM858.65 1103.54h29.2l-14.6 24.2zM865.67 1142.43h29.2l-14.6 24.2zM872.70 1142.43h29.2l-14.6 24.2zM879.72 1142.43h29.2l-14.6 24.2zM886.75 1142.43h29.2l-14.6 24.2zM893.77 1142.43h29.2l-14.6 24.2zM900.80 1103.54h29.2l-14.6 24.2zM907.82 1142.43h29.2l-14.6 24.2zM914.84 1142.43h29.2l-14.6 24.2zM921.87 1142.43h29.2l-14.6 24.2zM928.89 1142.43h29.2l-14.6 24.2zM935.92 1142.43h29.2l-14.6 24.2zM942.94 1142.43h29.2l-14.6 24.2zM949.97 1142.43h29.2l-14.6 24.2zM956.99 1103.54h29.2l-14.6 24.2zM964.02 1142.43h29.2l-14.6 24.2zM971.04 1142.43h29.2l-14.6 24.2zM978.07 1142.43h29.2l-14.6 24.2zM985.09 1142.43h29.2l-14.6 24.2zM992.11 1142.43h29.2l-14.6 24.2zM999.14 1142.43h29.2l-14.6 24.2zM1006.16 1142.43h29.2l-14.6 24.2zM1013.19 1142.43h29.2l-14.6 24.2zM1020.21 1142.43h29.2l-14.6 24.2zM1027.24 1103.54h29.2l-14.6 24.2zM1034.26 1142.43h29.2l-14.6 24.2zM1041.29 1142.43h29.2l-14.6 24.2zM1048.31 1142.43h29.2l-14.6 24.2zM1055.34 1142.43h29.2l-14.6 24.2zM1062.36 1142.43h29.2l-14.6 24.2zM1069.38 1142.43h29.2l-14.6 24.2zM1076.41 1142.43h29.2l-14.6 24.2zM1083.43 1103.54h29.2l-14.6 24.2zM1090.46 1142.43h29.2l-14.6 24.2zM1097.48 1142.43h29.2l-14.6 24.2zM1104.51 1142.43h29.2l-14.6 24.2zM1111.53 1142.43h29.2l-14.6 24.2zM1118.56 1142.43h29.2l-14.6 24.2zM1125.58 1142.43h29.2l-14.6 24.2zM1132.60 1142.43h29.2l-14.6 24.2zM1139.63 1103.54h29.2l-14.6 24.2zM1146.65 1142.43h29.2l-14.6 24.2zM1153.68 1142.43h29.2l-14.6 24.2zM1160.70 1142.43h29.2l-14.6 24.2zM1167.73 1142.43h29.2l-14.6 24.2zM1174.75 1142.43h29.2l-14.6 24.2zM1181.78 1142.43h29.2l-14.6 24.2zM1188.80 1142.43h29.2l-14.6 24.2zM1195.83 1142.43h29.2l-14.6 24.2zM1202.85 1142.43h29.2l-14.6 24.2zM1209.87 1142.43h29.2l-14.6 24.2zM1216.90 1142.43h29.2l-14.6 24.2zM1223.92 1142.43h29.2l-14.6 24.2zM1230.95 1142.43h29.2l-14.6 24.2zM1237.97 1103.54h29.2l-14.6 24.2zM1245.00 1142.43h29.2l-14.6 24.2zM1252.02 1142.43h29.2l-14.6 24.2zM1259.05 1142.43h29.2l-14.6 24.2zM1266.07 1103.54h29.2l-14.6 24.2zM1273.09 1142.43h29.2l-14.6 24.2zM1280.12 1142.43h29.2l-14.6 24.2zM1287.14 1142.43h29.2l-14.6 24.2zM1294.17 1142.43h29.2l-14.6 24.2zM1301.19 1142.43h29.2l-14.6 24.2zM1308.22 1142.43h29.2l-14.6 24.2zM1315.24 1142.43h29.2l-14.6 24.2zM1322.27 1103.54h29.2l-14.6 24.2zM1329.29 1142.43h29.2l-14.6 24.2zM1336.32 1142.43h29.2l-14.6 24.2zM1343.34 1142.43h29.2l-14.6 24.2zM1350.36 1142.43h29.2l-14.6 24.2zM1357.39 1142.43h29.2l-14.6 24.2zM1364.41 1103.54h29.2l-14.6 24.2zM1371.44 1142.43h29.2l-14.6 24.2zM1378.46 1142.43h29.2l-14.6 24.2zM1385.49 1142.43h29.2l-14.6 24.2zM1392.51 1142.43h29.2l-14.6 24.2zM1399.54 1142.43h29.2l-14.6 24.2zM1406.56 1142.43h29.2l-14.6 24.2zM1413.58 1142.43h29.2l-14.6 24.2zM1420.61 1142.43h29.2l-14.6 24.2zM1427.63 1142.43h29.2l-14.6 24.2zM1434.66 1142.43h29.2l-14.6 24.2zM1441.68 1142.43h29.2l-14.6 24.2zM1448.71 1142.43h29.2l-14.6 24.2zM1455.73 1142.43h29.2l-14.6 24.2zM1462.76 1142.43h29.2l-14.6 24.2zM1469.78 1142.43h29.2l-14.6 24.2zM1476.81 1142.43h29.2l-14.6 24.2zM1483.83 1142.43h29.2l-14.6 24.2zM1490.85 1142.43h29.2l-14.6 24.2zM1497.88 1142.43h29.2l-14.6 24.2zM1504.90 1142.43h29.2l-14.6 24.2zM1511.93 1142.43h29.2l-14.6 24.2zM1518.95 1142.43h29.2l-14.6 24.2zM1525.98 1142.43h29.2l-14.6 24.2zM1533.00 1142.43h29.2l-14.6 24.2zM1540.03 1142.43h29.2l-14.6 24.2zM1547.05 1142.43h29.2l-14.6 24.2z"/>
<polygon points="162.27,1134.5 1563.15,1134.5 1576.15,1157.2 149.27,1157.2" fill="#f435e6"/>
<polyline fill="none" stroke="#d020c8" stroke-width="2.7" stroke-linejoin="round" points="163.77,1149.39 170.80,1108.27 177.82,1149.39 184.85,1149.39 191.87,1149.39 198.90,1149.39 205.92,1149.39 212.95,1149.39 219.97,1149.39 227.00,1149.39 234.02,1149.39 241.04,1149.39 248.07,1149.39 255.09,1149.39 262.12,1149.39 269.14,1149.39 276.17,1149.39 283.19,1120.49 290.22,1149.39 297.24,1149.39 304.26,1149.39 311.29,1136.05 318.31,1149.39 325.34,1149.39 332.36,1149.39 339.39,1149.39 346.41,1149.39 353.44,1149.39 360.46,1149.39 367.49,1149.39 374.51,1149.39 381.53,1136.05 388.56,1149.39 395.58,1149.39 402.61,1149.39 409.63,1136.05 416.66,1149.39 423.68,1149.39 430.71,1149.39 437.73,1149.39 444.75,1149.39 451.78,1149.39 458.80,1149.39 465.83,1149.39 472.85,1149.39 479.88,1149.39 486.90,1149.39 493.93,1136.05 500.95,1149.39 507.97,1149.39 515.00,1149.39 522.02,1136.05 529.05,1149.39 536.07,1149.39 543.10,1149.39 550.12,1149.39 557.15,1149.39 564.17,1149.39 571.20,1149.39 578.22,1149.39 585.24,1149.39 592.27,1149.39 599.29,1149.39 606.32,1149.39 613.34,1149.39 620.37,1120.49 627.39,1149.39 634.42,1149.39 641.44,1149.39 648.46,1136.05 655.49,1149.39 662.51,1149.39 669.54,1149.39 676.56,1136.05 683.59,1149.39 690.61,1149.39 697.64,1149.39 704.66,1149.39 711.69,1149.39 718.71,1149.39 725.73,1149.39 732.76,1149.39 739.78,1149.39 746.81,1136.05 753.83,1149.39 760.86,1149.39 767.88,1149.39 774.91,1149.39 781.93,1149.39 788.95,1149.39 795.98,1149.39 803.00,1149.39 810.03,1149.39 817.05,1149.39 824.08,1149.39 831.10,1149.39 838.13,1149.39 845.15,1149.39 852.18,1149.39 859.20,1122.72 866.22,1149.39 873.25,1149.39 880.27,1149.39 887.30,1136.05 894.32,1149.39 901.35,1149.39 908.37,1149.39 915.40,1149.39 922.42,1149.39 929.44,1136.05 936.47,1149.39 943.49,1149.39 950.52,1149.39 957.54,1149.39 964.57,1149.39 971.59,1149.39 978.62,1149.39 985.64,1136.05 992.67,1149.39 999.69,1149.39 1006.71,1149.39 1013.74,1149.39 1020.76,1149.39 1027.79,1149.39 1034.81,1149.39 1041.84,1149.39 1048.86,1149.39 1055.89,1136.05 1062.91,1149.39 1069.93,1149.39 1076.96,1149.39 1083.98,1149.39 1091.01,1149.39 1098.03,1149.39 1105.06,1149.39 1112.08,1136.05 1119.11,1149.39 1126.13,1149.39 1133.16,1149.39 1140.18,1149.39 1147.20,1149.39 1154.23,1149.39 1161.25,1149.39 1168.28,1136.05 1175.30,1149.39 1182.33,1149.39 1189.35,1149.39 1196.38,1149.39 1203.40,1149.39 1210.42,1149.39 1217.45,1149.39 1224.47,1149.39 1231.50,1149.39 1238.52,1149.39 1245.55,1149.39 1252.57,1149.39 1259.60,1149.39 1266.62,1120.49 1273.65,1149.39 1280.67,1149.39 1287.69,1149.39 1294.72,1136.05 1301.74,1149.39 1308.77,1149.39 1315.79,1149.39 1322.82,1149.39 1329.84,1149.39 1336.87,1149.39 1343.89,1149.39 1350.91,1136.05 1357.94,1149.39 1364.96,1149.39 1371.99,1149.39 1379.01,1149.39 1386.04,1149.39 1393.06,1136.05 1400.09,1149.39 1407.11,1149.39 1414.14,1149.39 1421.16,1149.39 1428.18,1149.39 1435.21,1149.39 1442.23,1149.39 1449.26,1149.39 1456.28,1149.39 1463.31,1149.39 1470.33,1149.39 1477.36,1149.39 1484.38,1149.39 1491.40,1149.39 1498.43,1149.39 1505.45,1122.72 1512.48,1149.39 1519.50,1149.39 1526.53,1149.39 1533.55,1149.39 1540.58,1149.39 1547.60,1149.39 1554.63,1149.39 1561.65,1149.39"/>
<path fill="none" stroke="#ff10ff" stroke-width="2.6" d="M149.17 1157.46h29.2l-14.6 -24.2zM156.20 1116.34h29.2l-14.6 -24.2zM163.22 1157.46h29.2l-14.6 -24.2zM170.25 1157.46h29.2l-14.6 -24.2zM177.27 1157.46h29.2l-14.6 -24.2zM184.30 1157.46h29.2l-14.6 -24.2zM191.32 1157.46h29.2l-14.6 -24.2zM198.35 1157.46h29.2l-14.6 -24.2zM205.37 1157.46h29.2l-14.6 -24.2zM212.40 1157.46h29.2l-14.6 -24.2zM219.42 1157.46h29.2l-14.6 -24.2zM226.44 1157.46h29.2l-14.6 -24.2zM233.47 1157.46h29.2l-14.6 -24.2zM240.49 1157.46h29.2l-14.6 -24.2zM247.52 1157.46h29.2l-14.6 -24.2zM254.54 1157.46h29.2l-14.6 -24.2zM261.57 1157.46h29.2l-14.6 -24.2zM268.59 1128.56h29.2l-14.6 -24.2zM275.62 1157.46h29.2l-14.6 -24.2zM282.64 1157.46h29.2l-14.6 -24.2zM289.66 1157.46h29.2l-14.6 -24.2zM296.69 1144.12h29.2l-14.6 -24.2zM303.71 1157.46h29.2l-14.6 -24.2zM310.74 1157.46h29.2l-14.6 -24.2zM317.76 1157.46h29.2l-14.6 -24.2zM324.79 1157.46h29.2l-14.6 -24.2zM331.81 1157.46h29.2l-14.6 -24.2zM338.84 1157.46h29.2l-14.6 -24.2zM345.86 1157.46h29.2l-14.6 -24.2zM352.88 1157.46h29.2l-14.6 -24.2zM359.91 1157.46h29.2l-14.6 -24.2zM366.93 1144.12h29.2l-14.6 -24.2zM373.96 1157.46h29.2l-14.6 -24.2zM380.98 1157.46h29.2l-14.6 -24.2zM388.01 1157.46h29.2l-14.6 -24.2zM395.03 1144.12h29.2l-14.6 -24.2zM402.06 1157.46h29.2l-14.6 -24.2zM409.08 1157.46h29.2l-14.6 -24.2zM416.11 1157.46h29.2l-14.6 -24.2zM423.13 1157.46h29.2l-14.6 -24.2zM430.15 1157.46h29.2l-14.6 -24.2zM437.18 1157.46h29.2l-14.6 -24.2zM444.20 1157.46h29.2l-14.6 -24.2zM451.23 1157.46h29.2l-14.6 -24.2zM458.25 1157.46h29.2l-14.6 -24.2zM465.28 1157.46h29.2l-14.6 -24.2zM472.30 1157.46h29.2l-14.6 -24.2zM479.33 1144.12h29.2l-14.6 -24.2zM486.35 1157.46h29.2l-14.6 -24.2zM493.37 1157.46h29.2l-14.6 -24.2zM500.40 1157.46h29.2l-14.6 -24.2zM507.42 1144.12h29.2l-14.6 -24.2zM514.45 1157.46h29.2l-14.6 -24.2zM521.47 1157.46h29.2l-14.6 -24.2zM528.50 1157.46h29.2l-14.6 -24.2zM535.52 1157.46h29.2l-14.6 -24.2zM542.55 1157.46h29.2l-14.6 -24.2zM549.57 1157.46h29.2l-14.6 -24.2zM556.60 1157.46h29.2l-14.6 -24.2zM563.62 1157.46h29.2l-14.6 -24.2zM570.64 1157.46h29.2l-14.6 -24.2zM577.67 1157.46h29.2l-14.6 -24.2zM584.69 1157.46h29.2l-14.6 -24.2zM591.72 1157.46h29.2l-14.6 -24.2zM598.74 1157.46h29.2l-14.6 -24.2zM605.77 1128.56h29.2l-14.6 -24.2zM612.79 1157.46h29.2l-14.6 -24.2zM619.82 1157.46h29.2l-14.6 -24.2zM626.84 1157.46h29.2l-14.6 -24.2zM633.86 1144.12h29.2l-14.6 -24.2zM640.89 1157.46h29.2l-14.6 -24.2zM647.91 1157.46h29.2l-14.6 -24.2zM654.94 1157.46h29.2l-14.6 -24.2zM661.96 1144.12h29.2l-14.6 -24.2zM668.99 1157.46h29.2l-14.6 -24.2zM676.01 1157.46h29.2l-14.6 -24.2zM683.04 1157.46h29.2l-14.6 -24.2zM690.06 1157.46h29.2l-14.6 -24.2zM697.09 1157.46h29.2l-14.6 -24.2zM704.11 1157.46h29.2l-14.6 -24.2zM711.13 1157.46h29.2l-14.6 -24.2zM718.16 1157.46h29.2l-14.6 -24.2zM725.18 1157.46h29.2l-14.6 -24.2zM732.21 1144.12h29.2l-14.6 -24.2zM739.23 1157.46h29.2l-14.6 -24.2zM746.26 1157.46h29.2l-14.6 -24.2zM753.28 1157.46h29.2l-14.6 -24.2zM760.31 1157.46h29.2l-14.6 -24.2zM767.33 1157.46h29.2l-14.6 -24.2zM774.35 1157.46h29.2l-14.6 -24.2zM781.38 1157.46h29.2l-14.6 -24.2zM788.40 1157.46h29.2l-14.6 -24.2zM795.43 1157.46h29.2l-14.6 -24.2zM802.45 1157.46h29.2l-14.6 -24.2zM809.48 1157.46h29.2l-14.6 -24.2zM816.50 1157.46h29.2l-14.6 -24.2zM823.53 1157.46h29.2l-14.6 -24.2zM830.55 1157.46h29.2l-14.6 -24.2zM837.58 1157.46h29.2l-14.6 -24.2zM844.60 1130.78h29.2l-14.6 -24.2zM851.62 1157.46h29.2l-14.6 -24.2zM858.65 1157.46h29.2l-14.6 -24.2zM865.67 1157.46h29.2l-14.6 -24.2zM872.70 1144.12h29.2l-14.6 -24.2zM879.72 1157.46h29.2l-14.6 -24.2zM886.75 1157.46h29.2l-14.6 -24.2zM893.77 1157.46h29.2l-14.6 -24.2zM900.80 1157.46h29.2l-14.6 -24.2zM907.82 1157.46h29.2l-14.6 -24.2zM914.84 1144.12h29.2l-14.6 -24.2zM921.87 1157.46h29.2l-14.6 -24.2zM928.89 1157.46h29.2l-14.6 -24.2zM935.92 1157.46h29.2l-14.6 -24.2zM942.94 1157.46h29.2l-14.6 -24.2zM949.97 1157.46h29.2l-14.6 -24.2zM956.99 1157.46h29.2l-14.6 -24.2zM964.02 1157.46h29.2l-14.6 -24.2zM971.04 1144.12h29.2l-14.6 -24.2zM978.07 1157.46h29.2l-14.6 -24.2zM985.09 1157.46h29.2l-14.6 -24.2zM992.11 1157.46h29.2l-14.6 -24.2zM999.14 1157.46h29.2l-14.6 -24.2zM1006.16 1157.46h29.2l-14.6 -24.2zM1013.19 1157.46h29.2l-14.6 -24.2zM1020.21 1157.46h29.2l-14.6 -24.2zM1027.24 1157.46h29.2l-14.6 -24.2zM1034.26 1157.46h29.2l-14.6 -24.2zM1041.29 1144.12h29.2l-14.6 -24.2zM1048.31 1157.46h29.2l-14.6 -24.2zM1055.34 1157.46h29.2l-14.6 -24.2zM1062.36 1157.46h29.2l-14.6 -24.2zM1069.38 1157.46h29.2l-14.6 -24.2zM1076.41 1157.46h29.2l-14.6 -24.2zM1083.43 1157.46h29.2l-14.6 -24.2zM1090.46 1157.46h29.2l-14.6 -24.2zM1097.48 1144.12h29.2l-14.6 -24.2zM1104.51 1157.46h29.2l-14.6 -24.2zM1111.53 1157.46h29.2l-14.6 -24.2zM1118.56 1157.46h29.2l-14.6 -24.2zM1125.58 1157.46h29.2l-14.6 -24.2zM1132.60 1157.46h29.2l-14.6 -24.2zM1139.63 1157.46h29.2l-14.6 -24.2zM1146.65 1157.46h29.2l-14.6 -24.2zM1153.68 1144.12h29.2l-14.6 -24.2zM1160.70 1157.46h29.2l-14.6 -24.2zM1167.73 1157.46h29.2l-14.6 -24.2zM1174.75 1157.46h29.2l-14.6 -24.2zM1181.78 1157.46h29.2l-14.6 -24.2zM1188.80 1157.46h29.2l-14.6 -24.2zM1195.83 1157.46h29.2l-14.6 -24.2zM1202.85 1157.46h29.2l-14.6 -24.2zM1209.87 1157.46h29.2l-14.6 -24.2zM1216.90 1157.46h29.2l-14.6 -24.2zM1223.92 1157.46h29.2l-14.6 -24.2zM1230.95 1157.46h29.2l-14.6 -24.2zM1237.97 1157.46h29.2l-14.6 -24.2zM1245.00 1157.46h29.2l-14.6 -24.2zM1252.02 1128.56h29.2l-14.6 -24.2zM1259.05 1157.46h29.2l-14.6 -24.2zM1266.07 1157.46h29.2l-14.6 -24.2zM1273.09 1157.46h29.2l-14.6 -24.2zM1280.12 1144.12h29.2l-14.6 -24.2zM1287.14 1157.46h29.2l-14.6 -24.2zM1294.17 1157.46h29.2l-14.6 -24.2zM1301.19 1157.46h29.2l-14.6 -24.2zM1308.22 1157.46h29.2l-14.6 -24.2zM1315.24 1157.46h29.2l-14.6 -24.2zM1322.27 1157.46h29.2l-14.6 -24.2zM1329.29 1157.46h29.2l-14.6 -24.2zM1336.32 1144.12h29.2l-14.6 -24.2zM1343.34 1157.46h29.2l-14.6 -24.2zM1350.36 1157.46h29.2l-14.6 -24.2zM1357.39 1157.46h29.2l-14.6 -24.2zM1364.41 1157.46h29.2l-14.6 -24.2zM1371.44 1157.46h29.2l-14.6 -24.2zM1378.46 1144.12h29.2l-14.6 -24.2zM1385.49 1157.46h29.2l-14.6 -24.2zM1392.51 1157.46h29.2l-14.6 -24.2zM1399.54 1157.46h29.2l-14.6 -24.2zM1406.56 1157.46h29.2l-14.6 -24.2zM1413.58 1157.46h29.2l-14.6 -24.2zM1420.61 1157.46h29.2l-14.6 -24.2zM1427.63 1157.46h29.2l-14.6 -24.2zM1434.66 1157.46h29.2l-14.6 -24.2zM1441.68 1157.46h29.2l-14.6 -24.2zM1448.71 1157.46h29.2l-14.6 -24.2zM1455.73 1157.46h29.2l-14.6 -24.2zM1462.76 1157.46h29.2l-14.6 -24.2zM1469.78 1157.46h29.2l-14.6 -24.2zM1476.81 1157.46h29.2l-14.6 -24.2zM1483.83 1157.46h29.2l-14.6 -24.2zM1490.85 1130.78h29.2l-14.6 -24.2zM1497.88 1157.46h29.2l-14.6 -24.2zM1504.90 1157.46h29.2l-14.6 -24.2zM1511.93 1157.46h29.2l-14.6 -24.2zM1518.95 1157.46h29.2l-14.6 -24.2zM1525.98 1157.46h29.2l-14.6 -24.2zM1533.00 1157.46h29.2l-14.6 -24.2zM1540.03 1157.46h29.2l-14.6 -24.2zM1547.05 1157.46h29.2l-14.6 -24.2z"/>
<defs><linearGradient id="gU" gradientUnits="userSpaceOnUse" x1="156.75" y1="0" x2="1561.6" y2="0"><stop offset="0" stop-color="#000"/><stop offset="0.2429" stop-color="#000"/><stop offset="0.2429" stop-color="#111"/><stop offset="0.4605" stop-color="#111"/><stop offset="0.4605" stop-color="#383838"/><stop offset="0.6778" stop-color="#383838"/><stop offset="0.6778" stop-color="#5a5a5a"/><stop offset="0.8950" stop-color="#5a5a5a"/><stop offset="0.8950" stop-color="#808080"/><stop offset="1" stop-color="#808080"/></linearGradient><linearGradient id="gL" gradientUnits="userSpaceOnUse" x1="156.75" y1="0" x2="1561.6" y2="0"><stop offset="0" stop-color="#fff"/><stop offset="0.2429" stop-color="#fff"/><stop offset="0.2429" stop-color="#e0e0e0"/><stop offset="0.4605" stop-color="#e0e0e0"/><stop offset="0.4605" stop-color="#c4c4c4"/><stop offset="0.6778" stop-color="#c4c4c4"/><stop offset="0.6778" stop-color="#a4a4a4"/><stop offset="0.8950" stop-color="#a4a4a4"/><stop offset="0.8950" stop-color="#808080"/><stop offset="1" stop-color="#808080"/></linearGradient></defs>
<rect x="156.75" y="647.6" width="1404.90" height="3.1" fill="url(#gL)"/>
<rect x="156.75" y="644.3" width="1404.90" height="3.3" fill="url(#gU)"/>
<rect x="1078.2" y="74.6" width="447.4" height="327.1" fill="#fff" stroke="#141414" stroke-width="2.9"/>
<line x1="1089.8" y1="104.4" x2="1218.8" y2="104.4" stroke="#000000" stroke-width="2.7"/>
<rect x="1145.75" y="94.65" width="19.5" height="19.5" fill="none" stroke="#000000" stroke-width="2.6"/>
<text x="1231" y="121.4" font-size="38" fill="#000">Unknown</text>
<line x1="1089.8" y1="159.1" x2="1218.8" y2="159.1" stroke="#00006e" stroke-width="2.7"/>
<path d="M1155.5 145.1v28" stroke="#00006e" stroke-width="2.6"/>
<text x="1231" y="173.5" font-size="38" fill="#000">Friend</text>
<line x1="1089.8" y1="211.0" x2="1218.8" y2="211.0" stroke="#46b070" stroke-width="2.7"/>
<text x="1231" y="228.5" font-size="38" fill="#000">Neutral</text>
<line x1="1089.8" y1="266.3" x2="1218.8" y2="266.3" stroke="#8c2222" stroke-width="2.7"/>
<circle cx="1155.5" cy="266.3" r="12.3" fill="none" stroke="#d02222" stroke-width="2.6"/>
<text x="1231" y="280.1" font-size="38" fill="#000">Hostile</text>
<line x1="1089.8" y1="317.8" x2="1218.8" y2="317.8" stroke="#eeea50" stroke-width="2.7"/>
<path d="M1140.9 309.73h29.2l-14.6 24.2z" fill="none" stroke="#f2ee3c" stroke-width="2.6"/>
<text x="1231" y="335.1" font-size="38" fill="#000" textLength="283" lengthAdjust="spacing">Assumed Friend</text>
<line x1="1089.8" y1="373.5" x2="1218.8" y2="373.5" stroke="#b03aa4" stroke-width="2.7"/>
<path d="M1140.9 381.57h29.2l-14.6 -24.2z" fill="none" stroke="#e040dc" stroke-width="2.6"/>
<text x="1231" y="386.7" font-size="38" fill="#000">Suspect</text>
<text x="134.2" y="1169.5" font-size="40" fill="#262626" text-anchor="end">0</text>
<text x="134.6" y="1059.0" font-size="40" fill="#262626" text-anchor="end">0.1</text>
<text x="134.6" y="945.4" font-size="40" fill="#262626" text-anchor="end">0.2</text>
<text x="134.6" y="835.2" font-size="40" fill="#262626" text-anchor="end">0.3</text>
<text x="134.6" y="724.7" font-size="40" fill="#262626" text-anchor="end">0.4</text>
<text x="134.6" y="614.6" font-size="40" fill="#262626" text-anchor="end">0.5</text>
<text x="134.6" y="501.2" font-size="40" fill="#262626" text-anchor="end">0.6</text>
<text x="134.6" y="390.8" font-size="40" fill="#262626" text-anchor="end">0.7</text>
<text x="134.6" y="280.2" font-size="40" fill="#262626" text-anchor="end">0.8</text>
<text x="134.6" y="166.8" font-size="40" fill="#262626" text-anchor="end">0.9</text>
<text x="133.0" y="56.7" font-size="40" fill="#262626" text-anchor="end">1</text>
<text x="153.7" y="1211.5" font-size="40" fill="#262626" text-anchor="middle">0</text>
<text x="294.5" y="1211.5" font-size="40" fill="#262626" text-anchor="middle">20</text>
<text x="437.5" y="1211.5" font-size="40" fill="#262626" text-anchor="middle">40</text>
<text x="577.5" y="1211.5" font-size="40" fill="#262626" text-anchor="middle">60</text>
<text x="720.1" y="1211.5" font-size="40" fill="#262626" text-anchor="middle">80</text>
<text x="859.1" y="1211.5" font-size="40" fill="#262626" text-anchor="middle">100</text>
<text x="998.0" y="1211.5" font-size="40" fill="#262626" text-anchor="middle">120</text>
<text x="1141.5" y="1211.5" font-size="40" fill="#262626" text-anchor="middle">140</text>
<text x="1280.4" y="1211.5" font-size="40" fill="#262626" text-anchor="middle">160</text>
<text x="1422.0" y="1211.5" font-size="40" fill="#262626" text-anchor="middle">180</text>
<text x="1561.7" y="1211.5" font-size="40" fill="#262626" text-anchor="middle">200</text>
<text x="762.3" y="1276.5" font-size="47" fill="#262626" textLength="193" lengthAdjust="spacingAndGlyphs">time step</text>
<text transform="translate(51.1 762.3) rotate(-90)" x="0" y="0" font-size="47" fill="#262626" textLength="337.5" lengthAdjust="spacingAndGlyphs">mass value m(.)</text>
</svg></body></html>
